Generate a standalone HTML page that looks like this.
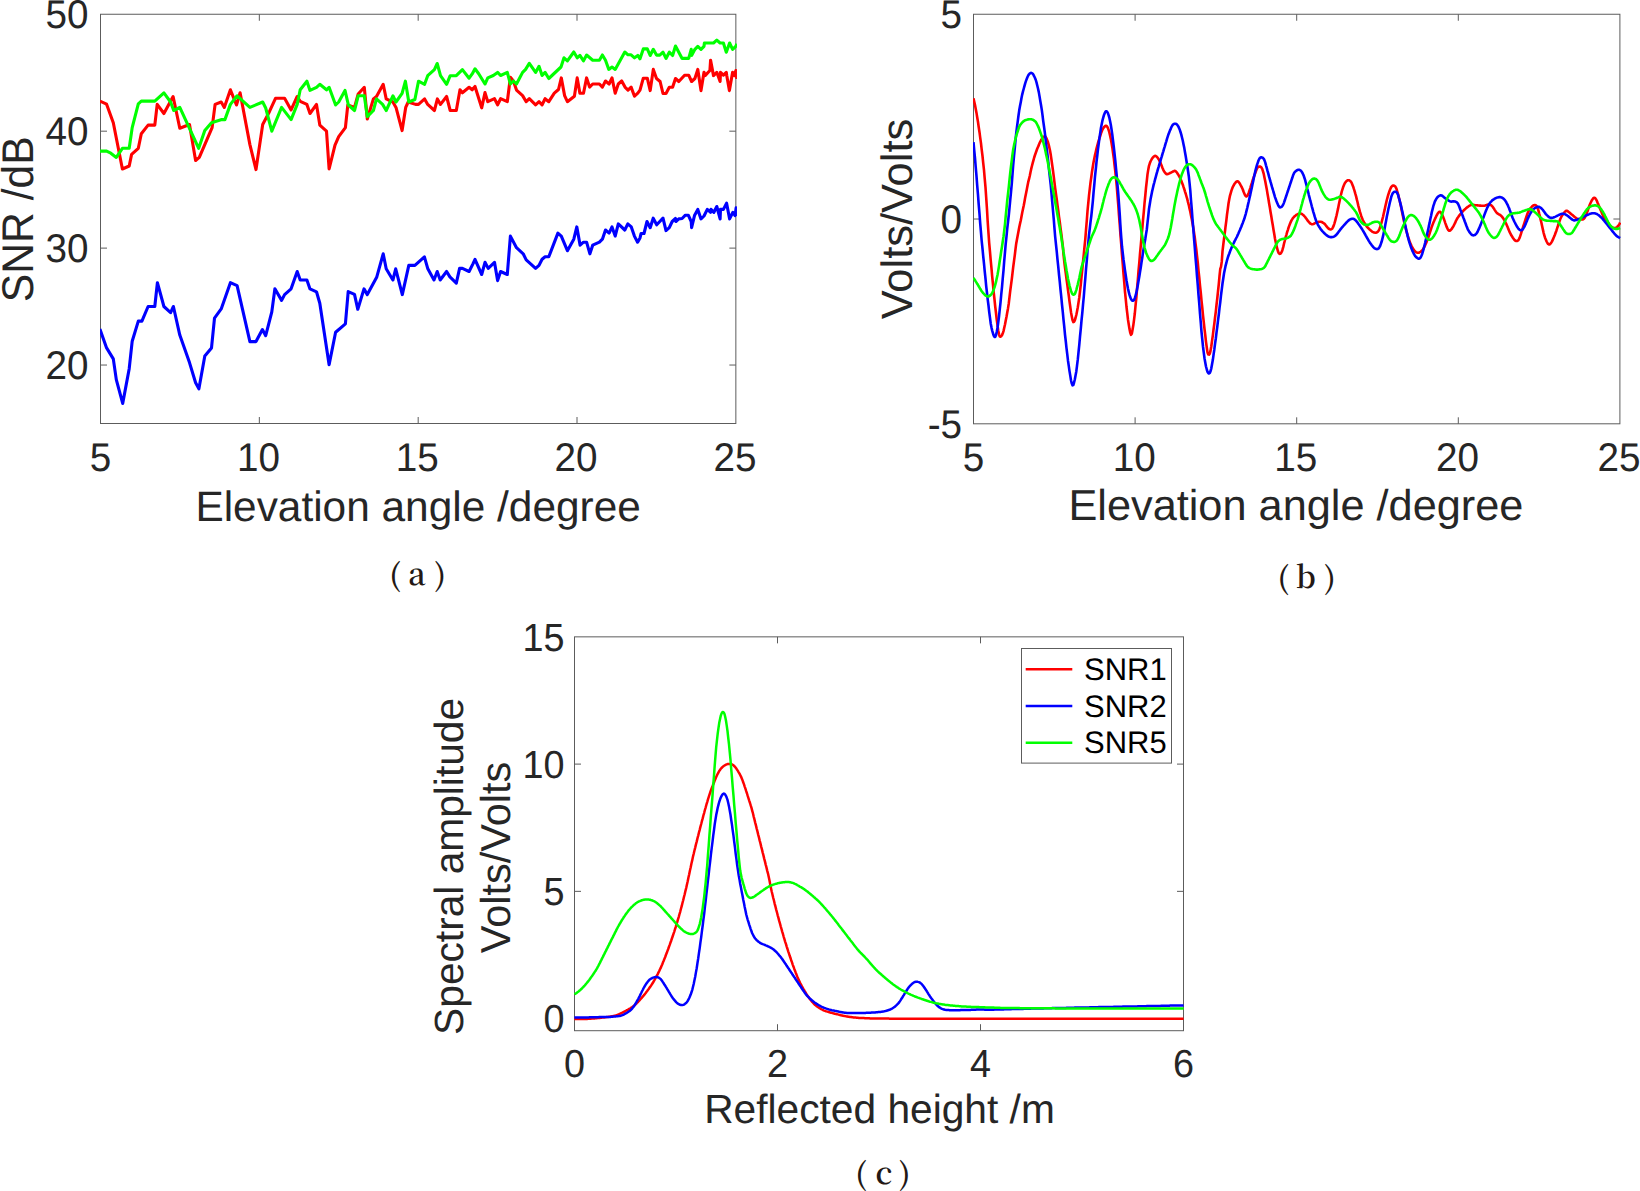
<!DOCTYPE html>
<html><head><meta charset="utf-8"><title>Figure</title>
<style>
html,body{margin:0;padding:0;background:#fff;}
body{width:1640px;height:1191px;overflow:hidden;}
svg{display:block;}
text{text-rendering:geometricPrecision;}
.t{font-family:"Liberation Sans", Arial, sans-serif;font-size:40.0px;fill:#262626;}
.l{font-family:"Liberation Sans", Arial, sans-serif;font-size:42.6px;fill:#262626;}
.c{font-family:"Noto Serif CJK SC", "Liberation Serif", serif;font-size:30.6px;font-weight:600;fill:#231815;}
.lg{font-family:"Liberation Sans", Arial, sans-serif;font-size:31.2px;fill:#000;}
.ax{stroke:#5c5c5c;stroke-width:1;fill:none;}
.tc{font-family:"Liberation Sans", Arial, sans-serif;font-size:39.1px;fill:#262626;}
.lc{font-family:"Liberation Sans", Arial, sans-serif;font-size:40.7px;fill:#262626;}
.cv{fill:none;stroke-linejoin:round;stroke-linecap:butt;}
</style></head><body>
<svg width="1640" height="1191" viewBox="0 0 1640 1191">
<rect width="1640" height="1191" fill="#fff"/>
<g class="ax"><rect x="100.50" y="14.25" width="635.35" height="409.25"/><line x1="259.34" y1="423.50" x2="259.34" y2="417.00"/><line x1="259.34" y1="14.25" x2="259.34" y2="20.75"/><line x1="418.18" y1="423.50" x2="418.18" y2="417.00"/><line x1="418.18" y1="14.25" x2="418.18" y2="20.75"/><line x1="577.01" y1="423.50" x2="577.01" y2="417.00"/><line x1="577.01" y1="14.25" x2="577.01" y2="20.75"/><line x1="100.50" y1="365.04" x2="107.00" y2="365.04"/><line x1="735.85" y1="365.04" x2="729.35" y2="365.04"/><line x1="100.50" y1="248.11" x2="107.00" y2="248.11"/><line x1="735.85" y1="248.11" x2="729.35" y2="248.11"/><line x1="100.50" y1="131.18" x2="107.00" y2="131.18"/><line x1="735.85" y1="131.18" x2="729.35" y2="131.18"/></g>
<clipPath id="ca"><rect x="100.00" y="13.75" width="636.95" height="410.25"/></clipPath>
<g clip-path="url(#ca)" class="cv">
<polyline points="99.9,101.1 106.6,104.2 113.3,122.7 122.4,169.0 129.2,166.0 131.6,154.4 138.3,148.3 141.3,133.7 148.1,125.1 154.8,125.1 157.2,104.4 163.9,113.5 173.1,96.5 179.8,128.2 189.5,124.5 195.6,160.5 199.3,157.4 212.1,127.6 215.1,104.4 221.2,102.0 224.3,107.4 230.4,89.8 236.5,105.0 240.1,92.8 249.9,144.6 256.0,169.6 262.7,124.5 269.4,111.7 275.5,98.3 284.6,98.3 291.1,109.9 297.2,96.5 300.2,101.3 306.9,104.4 310.0,113.5 316.5,104.4 319.8,125.1 326.5,131.2 329.1,169.0 335.0,145.2 338.7,136.7 345.4,127.6 347.8,105.0 354.5,107.4 358.2,94.0 364.3,87.3 367.3,119.0 373.4,98.9 376.5,96.5 383.2,84.3 386.2,98.9 392.9,102.0 396.0,107.4 402.1,130.6 405.7,107.4 408.2,102.0 415.5,104.4 418.5,104.4 424.6,98.9 427.7,104.4 434.4,110.5 437.4,98.9 440.5,104.4 446.6,96.5 450.2,110.5 456.3,110.5 460.0,89.8 462.4,92.8 469.1,87.3 472.2,89.8 475.0,86.5 481.7,107.8 485.0,92.6 487.8,101.7 494.5,98.7 497.6,104.8 500.6,98.7 507.3,101.7 510.4,77.3 513.4,81.0 516.5,90.1 522.6,95.6 526.2,101.7 529.3,98.7 535.6,104.8 539.0,101.7 542.1,104.8 545.1,98.7 548.8,101.7 554.3,93.2 558.5,89.5 561.3,77.9 564.6,95.6 567.4,101.7 574.4,96.2 577.2,77.9 579.9,93.2 583.5,93.2 586.6,77.9 589.6,87.1 592.7,84.0 599.4,84.0 602.4,87.1 605.5,81.0 609.1,84.0 612.0,77.9 615.2,93.2 618.3,84.0 621.7,81.0 625.0,87.1 628.0,90.1 631.1,87.1 634.5,96.2 637.8,93.2 640.0,90.2 643.3,78.2 647.3,78.2 650.2,90.6 653.3,69.4 656.5,78.5 660.1,81.5 663.0,93.5 666.0,93.5 669.3,87.3 672.6,87.3 675.5,78.5 678.8,81.5 684.6,75.2 688.7,75.2 691.6,81.5 694.9,78.5 697.8,69.4 701.0,90.6 704.0,72.3 705.1,75.6 709.9,70.5 710.6,60.2 713.5,75.6 716.8,72.3 720.1,81.5 720.5,72.3 723.4,75.2 726.3,72.3 726.7,75.2 729.4,90.6 732.6,72.3 734.4,75.6 735.9,70.5 736.9,78.9" stroke="#ff0000" stroke-width="3.1"/>
<polyline points="99.9,329.0 106.6,347.9 113.3,358.9 116.3,379.6 122.7,403.4 129.2,368.7 132.2,341.2 138.3,321.1 141.9,321.1 148.1,306.5 154.8,306.5 157.4,282.7 163.9,306.5 170.6,312.6 173.4,306.5 179.8,335.1 189.5,362.6 195.6,382.7 198.9,388.8 204.8,355.9 211.5,347.9 214.5,318.1 221.2,308.9 230.4,282.7 237.1,285.7 249.9,341.6 256.0,341.6 262.4,329.6 265.7,335.7 271.8,311.9 274.9,288.8 281.6,300.4 284.6,294.6 291.1,288.8 297.2,271.5 300.2,280.0 306.9,280.0 310.0,288.9 316.5,291.8 319.8,303.2 329.1,364.8 335.6,332.2 345.4,323.9 348.2,291.6 354.5,294.4 357.8,309.3 364.0,288.9 367.3,294.6 376.8,276.9 383.2,253.8 386.2,268.8 392.9,280.0 395.7,268.8 402.3,294.6 408.8,265.4 414.9,265.4 424.4,256.8 427.7,268.4 434.0,280.0 437.2,271.5 440.2,280.0 446.6,271.5 449.9,276.9 456.3,283.1 459.6,268.4 462.4,268.4 469.1,271.5 472.8,264.1 475.0,259.3 481.7,274.5 485.0,262.3 488.2,268.4 494.5,262.3 497.6,280.6 500.6,271.5 507.3,274.5 510.4,236.1 516.5,247.7 523.2,253.8 526.2,259.9 535.6,268.4 539.0,265.4 542.1,259.3 545.1,256.8 548.8,256.8 557.9,233.1 561.3,236.1 567.4,250.7 573.8,239.2 576.8,226.9 580.1,245.2 583.5,242.2 586.6,242.2 589.9,253.8 592.7,245.2 599.4,242.2 602.4,239.2 605.5,230.0 609.1,233.1 612.0,226.9 615.2,236.1 618.3,223.9 624.8,230.0 627.8,223.9 631.3,226.9 634.4,236.1 637.6,242.2 640.0,237.9 641.1,233.5 644.0,233.5 647.0,221.5 650.2,227.7 653.2,218.2 656.7,224.8 659.8,221.5 663.0,218.2 666.0,230.6 669.3,227.7 672.2,221.5 675.5,218.5 675.9,221.5 678.8,218.9 682.1,218.5 685.4,215.2 688.3,215.2 691.2,221.5 691.6,227.7 694.5,215.6 697.8,209.4 701.0,218.9 704.0,216.0 707.3,209.4 710.6,212.3 711.0,209.4 713.9,212.3 716.8,206.5 720.1,218.9 720.5,209.4 723.4,209.4 726.6,203.2 729.6,218.9 732.9,212.3 735.1,215.6 736.1,207.9 736.9,216.0" stroke="#0000ff" stroke-width="3.1"/>
<polyline points="99.9,151.1 106.6,151.1 110.8,153.2 116.3,157.4 122.4,148.3 129.2,148.3 132.2,127.6 138.3,103.8 141.3,101.1 154.8,101.1 163.9,92.8 170.6,102.0 173.7,110.5 179.8,107.4 198.7,148.3 204.8,130.6 211.5,122.7 221.8,119.6 224.9,119.6 230.4,104.4 237.1,95.8 249.9,107.4 262.7,102.0 265.7,108.0 271.8,131.2 281.6,107.4 291.1,119.6 297.2,104.4 300.2,89.8 306.9,81.2 310.0,90.4 316.5,87.3 319.8,84.3 326.5,89.8 329.1,87.3 335.6,105.0 338.7,102.0 345.0,90.4 348.4,105.0 354.5,110.5 358.2,95.8 364.3,95.8 367.3,116.6 373.4,110.5 376.5,98.9 382.6,104.4 386.2,110.5 392.9,95.8 396.0,102.0 402.1,93.4 405.4,81.2 408.8,102.0 414.9,99.5 418.5,81.2 424.6,84.3 427.7,75.7 434.4,69.6 437.2,63.5 440.5,75.7 446.6,84.3 450.2,75.7 456.3,75.7 462.4,69.6 469.1,78.2 472.2,73.9 475.0,68.8 478.7,73.7 485.0,84.0 487.8,77.9 493.3,75.5 497.6,72.4 500.6,75.5 507.3,72.4 510.4,84.0 513.4,81.0 516.5,84.0 522.6,72.4 525.6,69.4 529.3,63.3 535.6,72.4 539.0,66.3 542.1,75.5 545.1,72.4 548.8,78.5 561.0,67.0 564.0,57.8 567.4,60.9 573.8,52.0 577.2,57.8 579.9,55.4 583.5,60.9 586.6,55.0 592.7,60.2 599.4,60.2 602.4,55.0 605.5,60.2 608.8,69.4 612.0,67.0 615.2,69.4 624.8,52.0 628.0,54.8 631.1,54.8 634.5,57.8 637.8,55.4 640.0,58.8 643.3,48.9 647.3,48.9 650.2,55.5 653.3,49.3 656.5,55.1 659.8,55.1 663.0,52.2 666.0,58.4 669.3,52.2 672.6,55.5 675.5,46.0 682.1,58.4 688.7,58.4 691.2,49.3 691.6,55.5 694.9,49.3 697.8,46.3 701.0,49.3 704.0,46.3 704.4,43.0 713.5,43.0 716.8,40.1 720.1,43.0 723.4,43.0 726.3,52.2 729.6,43.0 732.6,49.3 735.7,46.5 736.9,43.8" stroke="#00ff00" stroke-width="3.1"/>
</g>
<text class="t" transform="translate(100.50,471.00) scale(0.9665,1)" text-anchor="middle">5</text>
<text class="t" transform="translate(258.44,471.00) scale(0.9665,1)" text-anchor="middle">10</text>
<text class="t" transform="translate(417.28,471.00) scale(0.9665,1)" text-anchor="middle">15</text>
<text class="t" transform="translate(576.11,471.00) scale(0.9665,1)" text-anchor="middle">20</text>
<text class="t" transform="translate(734.95,471.00) scale(0.9665,1)" text-anchor="middle">25</text>
<text class="t" transform="translate(88.50,379.24) scale(0.9665,1)" text-anchor="end">20</text>
<text class="t" transform="translate(88.50,262.31) scale(0.9665,1)" text-anchor="end">30</text>
<text class="t" transform="translate(88.50,145.38) scale(0.9665,1)" text-anchor="end">40</text>
<text class="t" transform="translate(88.50,28.45) scale(0.9665,1)" text-anchor="end">50</text>
<text class="l" transform="translate(418.10,520.60)" text-anchor="middle" style="font-size:42.4px">Elevation angle /degree</text>
<text class="l" transform="translate(33.00,219.30) rotate(-90) scale(0.9640,1)" text-anchor="middle" style="font-size:44.3px">SNR /dB</text>
<text class="c" xml:space="preserve" x="389.2 400.3 408.3 426.2 434.2" y="585.7 585.7 584.8 585.7 585.7">( a )</text>
<g class="ax"><rect x="973.50" y="14.25" width="646.40" height="409.55"/><line x1="1135.10" y1="423.80" x2="1135.10" y2="417.30"/><line x1="1135.10" y1="14.25" x2="1135.10" y2="20.75"/><line x1="1296.70" y1="423.80" x2="1296.70" y2="417.30"/><line x1="1296.70" y1="14.25" x2="1296.70" y2="20.75"/><line x1="1458.30" y1="423.80" x2="1458.30" y2="417.30"/><line x1="1458.30" y1="14.25" x2="1458.30" y2="20.75"/><line x1="973.50" y1="219.03" x2="980.00" y2="219.03"/><line x1="1619.90" y1="219.03" x2="1613.40" y2="219.03"/></g>
<clipPath id="cb"><rect x="973.00" y="13.75" width="648.00" height="410.55"/></clipPath>
<g clip-path="url(#cb)" class="cv">
<polyline points="973.5,98.3 974.2,101.6 975.0,105.1 975.7,108.8 976.5,112.9 977.2,117.3 978.0,122.0 978.7,127.0 979.5,132.2 980.2,137.6 981.0,143.4 981.7,149.6 982.5,156.0 983.2,162.8 984.0,170.2 984.7,178.4 985.5,187.3 986.2,197.7 987.0,209.5 987.7,221.8 988.5,233.3 989.2,243.1 990.0,251.8 990.7,260.2 991.5,268.5 992.2,276.6 993.0,284.6 993.7,292.3 994.5,299.5 995.2,306.4 996.0,313.0 996.7,319.3 997.5,325.1 998.2,330.4 999.0,334.3 999.7,336.4 1000.5,336.8 1001.2,336.3 1002.0,335.3 1002.7,333.6 1003.5,331.1 1004.2,328.0 1005.0,324.5 1005.7,320.7 1006.5,316.8 1007.2,312.8 1008.0,308.4 1008.8,303.2 1009.5,297.2 1010.2,291.2 1011.0,285.2 1011.8,279.2 1012.5,273.2 1013.2,267.2 1014.0,261.2 1014.8,255.2 1015.5,249.2 1016.2,243.7 1017.0,239.2 1017.8,235.1 1018.5,231.3 1019.2,227.5 1020.0,223.8 1020.8,220.2 1021.5,216.5 1022.2,212.8 1023.0,209.1 1023.8,205.3 1024.5,201.4 1025.2,197.4 1026.0,193.5 1026.8,189.6 1027.5,185.8 1028.2,182.2 1029.0,179.2 1029.8,175.8 1030.5,172.3 1031.2,168.9 1032.0,165.7 1032.8,162.7 1033.5,160.1 1034.2,157.5 1035.0,155.0 1035.8,152.8 1036.5,150.8 1037.2,148.8 1038.0,146.9 1038.8,145.1 1039.5,143.3 1040.2,141.8 1041.0,140.3 1041.8,139.0 1042.5,137.9 1043.2,137.1 1044.0,136.6 1044.8,136.5 1045.5,136.8 1046.2,137.9 1047.0,139.6 1047.8,141.7 1048.5,144.1 1049.2,146.9 1050.0,150.6 1050.8,155.1 1051.5,159.9 1052.2,165.0 1053.0,170.8 1053.8,176.8 1054.5,182.7 1055.2,188.4 1056.0,194.1 1056.8,199.8 1057.5,205.4 1058.3,210.9 1059.0,216.6 1059.8,222.2 1060.5,227.9 1061.3,233.6 1062.0,239.5 1062.8,245.9 1063.5,254.1 1064.3,261.8 1065.0,267.6 1065.8,273.2 1066.5,278.9 1067.3,284.5 1068.0,290.1 1068.8,295.7 1069.5,301.4 1070.3,307.0 1071.0,312.2 1071.8,316.4 1072.5,320.0 1073.3,322.1 1074.0,321.8 1074.8,320.3 1075.5,318.0 1076.3,315.0 1077.0,311.6 1077.8,307.3 1078.5,302.6 1079.3,297.4 1080.0,291.4 1080.8,284.4 1081.5,276.9 1082.3,269.4 1083.0,261.9 1083.8,254.3 1084.5,246.8 1085.3,239.2 1086.0,230.2 1086.8,220.5 1087.5,211.1 1088.3,202.8 1089.0,195.5 1089.8,188.7 1090.5,182.6 1091.3,177.0 1092.0,171.7 1092.8,166.8 1093.5,162.4 1094.3,158.6 1095.0,155.0 1095.8,151.7 1096.5,148.6 1097.3,145.7 1098.0,143.0 1098.8,140.4 1099.5,138.0 1100.3,135.7 1101.0,133.4 1101.8,131.3 1102.5,129.6 1103.3,128.2 1104.0,127.1 1104.8,126.4 1105.5,125.9 1106.3,125.9 1107.0,126.4 1107.8,127.7 1108.5,129.6 1109.3,132.2 1110.0,135.3 1110.8,138.9 1111.5,142.9 1112.3,147.4 1113.0,152.5 1113.8,158.2 1114.5,164.6 1115.3,171.3 1116.0,178.5 1116.8,186.6 1117.5,195.8 1118.3,205.5 1119.0,215.4 1119.8,225.4 1120.5,235.4 1121.3,245.2 1122.0,254.8 1122.8,264.3 1123.5,273.7 1124.3,282.9 1125.0,291.8 1125.8,299.7 1126.5,307.0 1127.3,313.7 1128.0,319.7 1128.8,324.7 1129.5,329.1 1130.3,332.9 1131.0,334.8 1131.8,333.7 1132.5,330.0 1133.3,325.3 1134.0,320.1 1134.8,313.5 1135.5,306.0 1136.3,298.0 1137.0,289.4 1137.8,280.4 1138.5,271.2 1139.3,262.5 1140.0,253.9 1140.8,245.4 1141.5,237.0 1142.3,228.6 1143.0,220.2 1143.8,211.8 1144.5,203.5 1145.3,195.5 1146.0,187.9 1146.8,180.8 1147.5,174.4 1148.3,169.4 1149.0,165.8 1149.8,163.3 1150.5,161.5 1151.3,160.0 1152.0,158.7 1152.8,157.6 1153.5,156.8 1154.3,156.2 1155.0,155.8 1155.8,156.0 1156.5,156.5 1157.3,157.3 1158.0,158.3 1158.8,159.5 1159.5,160.8 1160.3,162.3 1161.0,164.1 1161.8,166.1 1162.5,168.0 1163.3,169.8 1164.0,171.2 1164.8,172.4 1165.5,173.3 1166.3,174.0 1167.0,174.3 1167.8,174.1 1168.5,173.8 1169.3,173.4 1170.0,173.0 1170.8,172.7 1171.5,172.3 1172.3,171.9 1173.0,171.5 1173.8,171.2 1174.5,170.8 1175.3,171.0 1176.0,171.6 1176.8,172.4 1177.5,173.5 1178.3,174.7 1179.0,176.0 1179.8,177.4 1180.5,179.0 1181.3,180.7 1182.0,182.6 1182.8,184.7 1183.5,186.9 1184.3,189.2 1185.0,191.6 1185.8,194.0 1186.5,196.5 1187.3,199.2 1188.0,202.1 1188.8,205.1 1189.5,208.4 1190.3,211.8 1191.0,215.4 1191.8,219.3 1192.5,223.4 1193.3,227.8 1194.0,232.5 1194.8,237.7 1195.5,243.3 1196.3,249.3 1197.0,255.9 1197.8,263.0 1198.5,270.5 1199.3,278.0 1200.0,285.5 1200.8,293.0 1201.5,300.5 1202.3,308.0 1203.0,315.4 1203.8,322.4 1204.5,328.9 1205.3,335.5 1206.0,341.8 1206.8,347.7 1207.5,352.4 1208.3,354.4 1209.0,354.6 1209.8,353.6 1210.5,350.9 1211.3,346.2 1212.0,341.1 1212.8,335.6 1213.5,329.8 1214.3,323.9 1215.0,317.9 1215.8,311.6 1216.5,305.0 1217.3,298.2 1218.0,291.3 1218.8,284.0 1219.5,276.2 1220.3,268.7 1221.0,266.9 1221.8,261.4 1222.5,251.3 1223.3,244.5 1224.0,238.8 1224.8,232.9 1225.5,226.9 1226.3,220.8 1227.0,214.7 1227.8,208.8 1228.5,203.5 1229.3,199.1 1230.0,195.6 1230.8,192.8 1231.5,190.4 1232.3,188.3 1233.0,186.6 1233.8,185.1 1234.5,183.8 1235.3,182.9 1236.0,182.0 1236.8,181.4 1237.5,181.2 1238.3,181.6 1239.0,182.5 1239.8,183.6 1240.5,184.9 1241.3,186.3 1242.0,187.7 1242.8,189.5 1243.5,191.5 1244.3,193.4 1245.0,195.1 1245.8,196.2 1246.5,196.4 1247.3,195.8 1248.0,194.5 1248.8,192.7 1249.5,190.5 1250.3,188.1 1251.0,185.6 1251.8,183.2 1252.5,180.8 1253.3,178.5 1254.0,176.4 1254.8,174.2 1255.5,172.2 1256.3,170.2 1257.0,168.5 1257.8,167.3 1258.5,166.7 1259.3,166.5 1260.0,166.5 1260.8,166.9 1261.5,167.7 1262.3,169.1 1263.0,171.3 1263.8,174.2 1264.5,177.7 1265.3,181.4 1266.0,185.3 1266.8,189.4 1267.5,193.8 1268.3,198.3 1269.0,202.8 1269.8,207.3 1270.5,211.8 1271.3,216.3 1272.0,220.8 1272.8,225.3 1273.5,229.8 1274.3,234.3 1275.0,238.8 1275.8,242.6 1276.5,245.9 1277.3,248.9 1278.0,251.4 1278.8,253.2 1279.5,253.9 1280.3,253.8 1281.0,253.1 1281.8,251.7 1282.5,249.7 1283.3,246.9 1284.0,243.8 1284.8,240.7 1285.5,237.7 1286.3,235.1 1287.0,232.5 1287.8,230.1 1288.5,227.8 1289.3,225.6 1290.0,223.7 1290.8,221.9 1291.5,220.4 1292.3,219.1 1293.0,218.0 1293.8,217.2 1294.5,216.4 1295.3,215.8 1296.0,215.2 1296.8,214.7 1297.6,214.3 1298.3,214.0 1299.1,213.7 1299.8,213.5 1300.6,213.5 1301.3,213.7 1302.1,214.1 1302.8,214.7 1303.6,215.3 1304.3,216.1 1305.1,216.9 1305.8,217.9 1306.6,219.0 1307.3,220.1 1308.1,221.1 1308.8,222.1 1309.6,222.8 1310.3,223.5 1311.1,223.9 1311.8,224.2 1312.6,224.2 1313.3,224.0 1314.1,223.7 1314.8,223.2 1315.6,222.8 1316.3,222.5 1317.1,222.2 1317.8,222.0 1318.6,221.9 1319.3,221.8 1320.1,221.7 1320.8,221.8 1321.6,222.0 1322.3,222.3 1323.1,222.8 1323.8,223.3 1324.6,223.9 1325.3,224.7 1326.1,225.7 1326.8,226.7 1327.6,227.6 1328.3,228.4 1329.1,229.0 1329.8,229.3 1330.6,229.5 1331.3,229.3 1332.1,228.7 1332.8,227.6 1333.6,225.9 1334.3,223.8 1335.1,221.2 1335.8,218.4 1336.6,215.3 1337.3,212.0 1338.1,208.4 1338.8,204.7 1339.6,200.9 1340.3,197.4 1341.1,194.2 1341.8,191.4 1342.6,188.9 1343.3,186.7 1344.1,184.8 1344.8,183.3 1345.6,182.1 1346.3,181.2 1347.1,180.6 1347.8,180.3 1348.6,180.3 1349.3,180.4 1350.1,180.8 1350.8,181.6 1351.6,182.7 1352.3,184.4 1353.1,186.4 1353.8,188.7 1354.6,191.1 1355.3,193.7 1356.1,196.4 1356.8,199.4 1357.6,202.5 1358.3,205.6 1359.1,208.6 1359.8,211.4 1360.6,213.9 1361.3,216.2 1362.1,218.2 1362.8,220.0 1363.6,221.5 1364.3,222.8 1365.1,224.1 1365.8,225.2 1366.6,226.2 1367.3,227.2 1368.1,228.0 1368.8,228.7 1369.6,229.5 1370.3,230.1 1371.1,230.8 1371.8,231.3 1372.6,231.8 1373.3,232.2 1374.1,232.4 1374.8,232.6 1375.6,232.7 1376.3,232.6 1377.1,232.3 1377.8,231.7 1378.6,230.7 1379.3,229.2 1380.1,227.2 1380.8,224.9 1381.6,222.3 1382.3,219.5 1383.1,216.5 1383.8,213.3 1384.6,209.9 1385.3,206.5 1386.1,203.1 1386.8,200.0 1387.6,197.2 1388.3,194.6 1389.1,192.3 1389.8,190.2 1390.6,188.3 1391.3,186.9 1392.1,186.1 1392.8,185.6 1393.6,185.6 1394.3,185.8 1395.1,186.3 1395.8,187.4 1396.6,189.1 1397.3,191.5 1398.1,194.3 1398.8,197.2 1399.6,200.3 1400.3,203.6 1401.1,207.1 1401.8,210.7 1402.6,214.4 1403.3,218.1 1404.1,221.6 1404.8,224.8 1405.6,227.9 1406.3,230.7 1407.1,233.4 1407.8,235.9 1408.6,238.3 1409.3,240.5 1410.1,242.6 1410.8,244.4 1411.6,246.1 1412.3,247.5 1413.1,248.8 1413.8,249.9 1414.6,250.8 1415.3,251.6 1416.1,252.1 1416.8,252.5 1417.6,252.7 1418.3,252.7 1419.1,252.6 1419.8,252.2 1420.6,251.8 1421.3,251.1 1422.1,250.4 1422.8,249.4 1423.6,248.2 1424.3,246.9 1425.1,245.3 1425.8,243.7 1426.6,241.9 1427.3,240.0 1428.1,238.0 1428.8,235.8 1429.6,233.5 1430.3,231.2 1431.1,228.9 1431.8,226.7 1432.6,224.6 1433.3,222.7 1434.1,221.0 1434.8,219.3 1435.6,217.7 1436.3,216.1 1437.1,214.6 1437.8,213.3 1438.6,212.4 1439.3,211.8 1440.1,211.8 1440.8,212.4 1441.6,213.6 1442.3,215.1 1443.1,216.9 1443.8,218.8 1444.6,220.9 1445.3,223.1 1446.1,225.3 1446.8,227.2 1447.6,228.8 1448.3,230.0 1449.1,230.7 1449.8,230.7 1450.6,230.1 1451.3,229.4 1452.1,228.4 1452.8,227.2 1453.6,225.9 1454.3,224.5 1455.1,222.9 1455.8,221.2 1456.6,219.7 1457.3,218.3 1458.1,217.2 1458.8,216.1 1459.6,215.1 1460.3,214.2 1461.1,213.3 1461.8,212.4 1462.6,211.6 1463.3,210.8 1464.1,210.1 1464.8,209.3 1465.6,208.7 1466.3,208.0 1467.1,207.4 1467.8,206.8 1468.6,206.3 1469.3,205.8 1470.1,205.4 1470.8,205.1 1471.6,204.9 1472.3,204.9 1473.1,204.9 1473.8,205.0 1474.6,205.1 1475.3,205.2 1476.1,205.2 1476.8,205.3 1477.6,205.4 1478.3,205.5 1479.1,205.5 1479.8,205.6 1480.6,205.6 1481.3,205.7 1482.1,205.7 1482.8,205.8 1483.6,205.8 1484.3,205.7 1485.1,205.5 1485.8,205.2 1486.6,205.0 1487.3,204.7 1488.1,204.5 1488.8,204.4 1489.6,204.5 1490.3,204.8 1491.1,205.2 1491.8,205.8 1492.6,206.6 1493.3,207.7 1494.1,208.9 1494.8,210.1 1495.6,211.3 1496.3,212.3 1497.1,213.1 1497.8,213.6 1498.6,214.1 1499.3,214.5 1500.1,214.9 1500.8,215.5 1501.6,216.2 1502.3,217.1 1503.1,218.1 1503.8,219.3 1504.6,220.6 1505.3,222.1 1506.1,223.6 1506.8,225.2 1507.6,227.0 1508.3,228.9 1509.1,230.7 1509.8,232.4 1510.6,233.9 1511.3,235.3 1512.1,236.5 1512.8,237.7 1513.6,238.8 1514.3,239.8 1515.1,240.5 1515.8,240.9 1516.6,241.0 1517.3,240.9 1518.1,240.4 1518.8,239.4 1519.6,237.9 1520.3,235.8 1521.1,233.4 1521.8,231.0 1522.6,228.6 1523.3,226.2 1524.1,223.8 1524.8,221.6 1525.6,219.3 1526.3,217.0 1527.1,214.8 1527.8,212.8 1528.6,211.2 1529.3,209.9 1530.1,208.8 1530.8,207.9 1531.6,207.0 1532.3,206.2 1533.1,205.6 1533.8,205.2 1534.6,205.1 1535.3,205.1 1536.1,205.5 1536.8,206.4 1537.6,208.0 1538.4,210.4 1539.1,213.3 1539.9,216.3 1540.6,219.4 1541.4,222.7 1542.1,226.1 1542.9,229.6 1543.6,232.8 1544.4,235.6 1545.1,237.9 1545.9,239.8 1546.6,241.5 1547.4,243.0 1548.1,244.0 1548.9,244.5 1549.6,244.4 1550.4,243.8 1551.1,242.9 1551.9,241.6 1552.6,240.1 1553.4,238.4 1554.1,236.6 1554.9,234.8 1555.6,232.8 1556.4,230.7 1557.1,228.4 1557.9,226.0 1558.6,223.7 1559.4,221.5 1560.1,219.5 1560.9,217.8 1561.6,216.3 1562.4,215.1 1563.1,214.0 1563.9,213.0 1564.6,212.2 1565.4,211.4 1566.1,210.9 1566.9,210.8 1567.6,211.1 1568.4,211.7 1569.1,212.3 1569.9,212.9 1570.6,213.6 1571.4,214.2 1572.1,214.8 1572.9,215.4 1573.6,216.1 1574.4,216.7 1575.1,217.3 1575.9,217.9 1576.6,218.4 1577.4,218.7 1578.1,218.9 1578.9,219.1 1579.6,219.2 1580.4,219.4 1581.1,219.5 1581.9,219.5 1582.6,219.4 1583.4,219.2 1584.1,218.5 1584.9,217.4 1585.6,216.0 1586.4,214.3 1587.1,212.4 1587.9,210.2 1588.6,208.0 1589.4,205.8 1590.1,204.0 1590.9,202.3 1591.6,200.8 1592.4,199.5 1593.1,198.3 1593.9,197.8 1594.6,197.8 1595.4,198.4 1596.1,199.4 1596.9,201.0 1597.6,202.8 1598.4,204.6 1599.1,206.4 1599.9,208.2 1600.6,210.0 1601.4,211.8 1602.1,213.6 1602.9,215.3 1603.6,217.0 1604.4,218.7 1605.1,220.1 1605.9,221.3 1606.6,222.3 1607.4,223.2 1608.1,224.0 1608.9,224.8 1609.6,225.5 1610.4,226.2 1611.1,226.7 1611.9,227.2 1612.6,227.6 1613.4,227.9 1614.1,228.0 1614.9,228.0 1615.6,227.9 1616.4,227.6 1617.1,227.0 1617.9,226.2 1618.6,225.3 1619.4,224.1 1620.1,222.6" stroke="#ff0000" stroke-width="2.6"/>
<polyline points="973.5,142.2 974.2,150.1 975.0,158.2 975.7,166.9 976.5,176.1 977.2,185.5 978.0,194.9 978.7,204.3 979.5,213.8 980.2,223.4 981.0,232.7 981.7,241.0 982.5,248.6 983.2,256.1 984.0,263.6 984.7,271.1 985.5,278.6 986.2,286.1 987.0,293.0 987.7,299.3 988.5,305.5 989.2,311.8 990.0,317.8 990.7,323.4 991.5,327.6 992.2,330.6 993.0,333.3 993.7,335.5 994.5,336.9 995.2,337.0 996.0,335.3 996.7,332.1 997.5,328.0 998.2,322.9 999.0,316.6 999.7,309.8 1000.5,302.6 1001.2,295.0 1002.0,287.1 1002.7,279.0 1003.5,270.4 1004.2,261.2 1005.0,252.1 1005.7,243.9 1006.5,236.3 1007.2,229.0 1008.0,222.0 1008.8,215.0 1009.5,207.8 1010.2,200.3 1011.0,192.1 1011.8,183.3 1012.5,174.2 1013.2,165.0 1014.0,156.2 1014.8,147.9 1015.5,140.3 1016.2,133.3 1017.0,126.8 1017.8,120.9 1018.5,115.5 1019.2,110.6 1020.0,106.1 1020.8,101.9 1021.5,98.1 1022.2,94.6 1023.0,91.4 1023.8,88.5 1024.5,85.8 1025.2,83.3 1026.0,80.9 1026.8,78.8 1027.5,77.0 1028.2,75.5 1029.0,74.3 1029.8,73.5 1030.5,73.0 1031.2,72.9 1032.0,73.2 1032.8,73.8 1033.5,74.9 1034.2,76.3 1035.0,78.0 1035.8,80.0 1036.5,82.4 1037.2,85.2 1038.0,88.5 1038.8,92.1 1039.5,96.1 1040.2,100.4 1041.0,105.0 1041.8,109.9 1042.5,115.2 1043.2,120.8 1044.0,126.5 1044.8,132.4 1045.5,138.5 1046.2,144.8 1047.0,151.2 1047.8,157.7 1048.5,164.4 1049.2,171.3 1050.0,178.4 1050.8,185.7 1051.5,193.4 1052.2,201.7 1053.0,210.6 1053.8,219.7 1054.5,228.6 1055.2,237.0 1056.0,244.7 1056.8,252.2 1057.5,259.7 1058.3,267.2 1059.0,274.7 1059.8,282.2 1060.5,289.7 1061.3,297.2 1062.0,304.7 1062.8,312.2 1063.5,319.7 1064.3,327.2 1065.0,334.6 1065.8,341.5 1066.5,348.1 1067.3,354.6 1068.0,360.7 1068.8,366.1 1069.5,371.1 1070.3,375.9 1071.0,380.3 1071.8,383.6 1072.5,385.3 1073.3,385.0 1074.0,382.8 1074.8,379.5 1075.5,375.8 1076.3,371.4 1077.0,365.9 1077.8,359.4 1078.5,352.4 1079.3,344.6 1080.0,336.6 1080.8,328.6 1081.5,320.6 1082.3,312.8 1083.0,304.8 1083.8,296.5 1084.5,287.5 1085.3,278.4 1086.0,269.3 1086.8,260.3 1087.5,251.3 1088.3,242.5 1089.0,234.9 1089.8,228.3 1090.5,222.2 1091.3,216.1 1092.0,209.3 1092.8,201.6 1093.5,193.2 1094.3,184.7 1095.0,176.5 1095.8,169.1 1096.5,162.0 1097.3,155.4 1098.0,149.1 1098.8,143.1 1099.5,137.6 1100.3,132.4 1101.0,127.8 1101.8,123.7 1102.5,120.3 1103.3,117.4 1104.0,114.9 1104.8,112.9 1105.5,111.7 1106.3,111.2 1107.0,111.6 1107.8,112.9 1108.5,114.9 1109.3,117.5 1110.0,120.8 1110.8,124.7 1111.5,129.3 1112.3,134.6 1113.0,140.5 1113.8,146.8 1114.5,153.5 1115.3,160.7 1116.0,168.3 1116.8,176.5 1117.5,185.1 1118.3,194.2 1119.0,203.8 1119.8,215.3 1120.5,227.4 1121.3,238.2 1122.0,246.5 1122.8,253.4 1123.5,259.5 1124.3,265.1 1125.0,270.4 1125.8,275.6 1126.5,280.5 1127.3,284.9 1128.0,288.8 1128.8,292.1 1129.5,294.9 1130.3,297.3 1131.0,299.1 1131.8,300.2 1132.5,300.8 1133.3,300.7 1134.0,300.0 1134.8,298.2 1135.5,295.8 1136.3,292.9 1137.0,289.4 1137.8,285.3 1138.5,281.0 1139.3,276.6 1140.0,272.0 1140.8,267.2 1141.5,262.4 1142.3,257.5 1143.0,252.6 1143.8,247.8 1144.5,243.2 1145.3,238.9 1146.0,234.4 1146.8,229.5 1147.5,222.9 1148.3,215.6 1149.0,208.9 1149.8,204.0 1150.5,199.6 1151.3,195.6 1152.0,191.9 1152.8,188.5 1153.5,185.4 1154.3,182.5 1155.0,179.7 1155.8,176.8 1156.5,174.1 1157.3,171.4 1158.0,168.8 1158.8,166.3 1159.5,163.8 1160.3,161.3 1161.0,158.8 1161.8,156.3 1162.5,153.8 1163.3,151.3 1164.0,148.8 1164.8,146.3 1165.5,143.8 1166.3,141.3 1167.0,138.8 1167.8,136.4 1168.5,134.2 1169.3,132.2 1170.0,130.4 1170.8,128.6 1171.5,126.9 1172.3,125.6 1173.0,124.6 1173.8,124.0 1174.5,123.8 1175.3,123.7 1176.0,123.8 1176.8,124.3 1177.5,125.2 1178.3,126.4 1179.0,127.9 1179.8,129.8 1180.5,132.0 1181.3,134.6 1182.0,137.5 1182.8,140.7 1183.5,144.2 1184.3,148.1 1185.0,152.3 1185.8,156.7 1186.5,161.3 1187.3,166.0 1188.0,170.8 1188.8,176.2 1189.5,182.6 1190.3,190.7 1191.0,200.0 1191.8,209.5 1192.5,219.0 1193.3,228.6 1194.0,238.2 1194.8,247.8 1195.5,257.3 1196.3,266.7 1197.0,276.1 1197.8,285.5 1198.5,294.9 1199.3,304.2 1200.0,313.6 1200.8,323.0 1201.5,331.9 1202.3,339.6 1203.0,346.5 1203.8,352.8 1204.5,358.2 1205.3,362.7 1206.0,366.5 1206.8,369.5 1207.5,371.8 1208.3,373.1 1209.0,373.5 1209.8,373.0 1210.5,371.3 1211.3,368.3 1212.0,364.4 1212.8,360.1 1213.5,355.1 1214.3,349.7 1215.0,344.1 1215.8,338.5 1216.5,332.6 1217.3,326.7 1218.0,320.6 1218.8,314.5 1219.5,308.2 1220.3,301.8 1221.0,295.4 1221.8,289.2 1222.5,283.5 1223.3,278.2 1224.0,273.5 1224.8,269.5 1225.5,266.2 1226.3,263.2 1227.0,260.3 1227.8,257.7 1228.5,255.5 1229.3,253.5 1230.0,251.5 1230.8,249.6 1231.5,247.8 1232.3,246.1 1233.0,244.4 1233.8,242.9 1234.5,241.4 1235.3,239.9 1236.0,238.5 1236.8,237.0 1237.5,235.4 1238.3,233.7 1239.0,232.0 1239.8,230.3 1240.5,228.5 1241.3,226.7 1242.0,224.8 1242.8,222.9 1243.5,220.9 1244.3,218.8 1245.0,216.4 1245.8,213.8 1246.5,210.9 1247.3,207.8 1248.0,204.6 1248.8,201.3 1249.5,198.0 1250.3,194.6 1251.0,191.2 1251.8,187.7 1252.5,184.2 1253.3,180.6 1254.0,177.1 1254.8,173.6 1255.5,170.3 1256.3,167.4 1257.0,164.9 1257.8,162.6 1258.5,160.5 1259.3,158.9 1260.0,157.8 1260.8,157.3 1261.5,157.3 1262.3,157.6 1263.0,158.0 1263.8,158.9 1264.5,160.4 1265.3,162.6 1266.0,165.3 1266.8,168.1 1267.5,170.9 1268.3,173.7 1269.0,176.4 1269.8,179.1 1270.5,181.7 1271.3,184.3 1272.0,186.9 1272.8,189.5 1273.5,192.0 1274.3,194.6 1275.0,197.1 1275.8,199.3 1276.5,201.3 1277.3,203.2 1278.0,204.8 1278.8,206.3 1279.5,207.2 1280.3,207.4 1281.0,207.1 1281.8,206.6 1282.5,205.7 1283.3,204.4 1284.0,202.6 1284.8,200.3 1285.5,198.1 1286.3,195.8 1287.0,193.6 1287.8,191.3 1288.5,189.1 1289.3,186.8 1290.0,184.6 1290.8,182.3 1291.5,180.1 1292.3,177.8 1293.0,175.6 1293.8,173.7 1294.5,172.4 1295.3,171.6 1296.0,171.0 1296.8,170.4 1297.6,170.0 1298.3,169.8 1299.1,169.8 1299.8,170.0 1300.6,170.5 1301.3,171.2 1302.1,172.3 1302.8,173.7 1303.6,175.4 1304.3,177.5 1305.1,179.9 1305.8,182.7 1306.6,185.7 1307.3,188.7 1308.1,191.8 1308.8,194.8 1309.6,197.8 1310.3,200.7 1311.1,203.5 1311.8,206.3 1312.6,209.1 1313.3,211.8 1314.1,214.4 1314.8,216.9 1315.6,219.2 1316.3,221.2 1317.1,223.0 1317.8,224.6 1318.6,225.9 1319.3,227.1 1320.1,228.2 1320.8,229.3 1321.6,230.2 1322.3,231.1 1323.1,231.9 1323.8,232.7 1324.6,233.4 1325.3,234.2 1326.1,234.8 1326.8,235.4 1327.6,236.0 1328.3,236.4 1329.1,236.8 1329.8,237.0 1330.6,237.1 1331.3,237.1 1332.1,237.1 1332.8,236.9 1333.6,236.7 1334.3,236.4 1335.1,235.9 1335.8,235.3 1336.6,234.5 1337.3,233.6 1338.1,232.6 1338.8,231.6 1339.6,230.6 1340.3,229.6 1341.1,228.6 1341.8,227.7 1342.6,226.8 1343.3,226.0 1344.1,225.1 1344.8,224.3 1345.6,223.5 1346.3,222.7 1347.1,221.8 1347.8,221.1 1348.6,220.4 1349.3,219.9 1350.1,219.4 1350.8,219.1 1351.6,218.9 1352.3,218.8 1353.1,218.8 1353.8,219.0 1354.6,219.4 1355.3,220.0 1356.1,220.8 1356.8,221.6 1357.6,222.6 1358.3,223.7 1359.1,224.7 1359.8,225.8 1360.6,226.9 1361.3,228.1 1362.1,229.2 1362.8,230.4 1363.6,231.7 1364.3,233.0 1365.1,234.3 1365.8,235.6 1366.6,237.0 1367.3,238.3 1368.1,239.6 1368.8,240.9 1369.6,242.1 1370.3,243.3 1371.1,244.3 1371.8,245.3 1372.6,246.2 1373.3,247.1 1374.1,247.9 1374.8,248.4 1375.6,248.8 1376.3,249.0 1377.1,249.1 1377.8,248.9 1378.6,248.4 1379.3,247.4 1380.1,246.0 1380.8,244.1 1381.6,241.8 1382.3,239.1 1383.1,235.9 1383.8,232.5 1384.6,228.7 1385.3,224.7 1386.1,220.7 1386.8,216.8 1387.6,213.0 1388.3,209.4 1389.1,206.0 1389.8,202.7 1390.6,199.6 1391.3,196.7 1392.1,194.6 1392.8,193.2 1393.6,192.3 1394.3,191.8 1395.1,191.7 1395.8,191.7 1396.6,192.2 1397.3,193.3 1398.1,195.0 1398.8,197.6 1399.6,200.3 1400.3,203.2 1401.1,206.2 1401.8,209.4 1402.6,212.7 1403.3,216.0 1404.1,219.6 1404.8,223.2 1405.6,226.8 1406.3,230.3 1407.1,233.7 1407.8,236.7 1408.6,239.6 1409.3,242.1 1410.1,244.5 1410.8,246.7 1411.6,248.8 1412.3,250.6 1413.1,252.3 1413.8,253.8 1414.6,255.1 1415.3,256.2 1416.1,257.1 1416.8,257.7 1417.6,258.2 1418.3,258.6 1419.1,258.7 1419.8,258.3 1420.6,257.5 1421.3,256.1 1422.1,254.2 1422.8,251.9 1423.6,249.2 1424.3,246.2 1425.1,243.0 1425.8,239.8 1426.6,236.6 1427.3,233.2 1428.1,229.9 1428.8,226.4 1429.6,222.9 1430.3,219.3 1431.1,215.8 1431.8,212.3 1432.6,209.1 1433.3,206.2 1434.1,203.8 1434.8,201.7 1435.6,200.1 1436.3,198.8 1437.1,197.7 1437.8,196.9 1438.6,196.3 1439.3,195.8 1440.1,195.4 1440.8,195.2 1441.6,195.4 1442.3,195.9 1443.1,196.5 1443.8,197.1 1444.6,197.7 1445.3,198.3 1446.1,198.8 1446.8,199.3 1447.6,199.8 1448.3,200.3 1449.1,200.8 1449.8,201.3 1450.6,201.5 1451.3,201.6 1452.1,201.5 1452.8,201.4 1453.6,201.3 1454.3,201.4 1455.1,201.6 1455.8,201.8 1456.6,202.2 1457.3,202.9 1458.1,203.9 1458.8,205.5 1459.6,207.5 1460.3,209.5 1461.1,211.5 1461.8,213.5 1462.6,215.5 1463.3,217.5 1464.1,219.5 1464.8,221.5 1465.6,223.5 1466.3,225.5 1467.1,227.5 1467.8,229.3 1468.6,230.7 1469.3,231.9 1470.1,232.9 1470.8,233.8 1471.6,234.6 1472.3,235.1 1473.1,235.4 1473.8,235.3 1474.6,235.1 1475.3,234.6 1476.1,233.9 1476.8,233.0 1477.6,231.7 1478.3,230.1 1479.1,228.4 1479.8,226.7 1480.6,224.9 1481.3,223.0 1482.1,221.1 1482.8,219.1 1483.6,217.1 1484.3,215.1 1485.1,213.0 1485.8,211.1 1486.6,209.3 1487.3,207.6 1488.1,206.1 1488.8,204.7 1489.6,203.5 1490.3,202.4 1491.1,201.6 1491.8,200.8 1492.6,200.1 1493.3,199.6 1494.1,199.1 1494.8,198.6 1495.6,198.2 1496.3,197.9 1497.1,197.6 1497.8,197.4 1498.6,197.2 1499.3,197.1 1500.1,197.1 1500.8,197.2 1501.6,197.4 1502.3,197.8 1503.1,198.3 1503.8,198.9 1504.6,199.8 1505.3,200.8 1506.1,201.9 1506.8,203.3 1507.6,204.8 1508.3,206.5 1509.1,208.3 1509.8,210.3 1510.6,212.4 1511.3,214.5 1512.1,216.5 1512.8,218.3 1513.6,220.0 1514.3,221.5 1515.1,223.0 1515.8,224.4 1516.6,225.8 1517.3,227.1 1518.1,228.2 1518.8,229.1 1519.6,229.8 1520.3,230.2 1521.1,230.3 1521.8,230.0 1522.6,229.4 1523.3,228.4 1524.1,227.2 1524.8,225.8 1525.6,224.1 1526.3,222.3 1527.1,220.4 1527.8,218.6 1528.6,216.9 1529.3,215.5 1530.1,214.0 1530.8,212.7 1531.6,211.5 1532.3,210.4 1533.1,209.5 1533.8,208.8 1534.6,208.3 1535.3,207.8 1536.1,207.5 1536.8,207.2 1537.6,206.9 1538.4,206.8 1539.1,206.9 1539.9,207.3 1540.6,207.7 1541.4,208.3 1542.1,209.1 1542.9,209.9 1543.6,210.9 1544.4,212.0 1545.1,213.1 1545.9,214.1 1546.6,214.9 1547.4,215.7 1548.1,216.4 1548.9,217.0 1549.6,217.4 1550.4,217.8 1551.1,217.9 1551.9,217.9 1552.6,217.7 1553.4,217.5 1554.1,217.2 1554.9,216.9 1555.6,216.6 1556.4,216.2 1557.1,215.8 1557.9,215.4 1558.6,215.1 1559.4,214.7 1560.1,214.4 1560.9,214.1 1561.6,213.9 1562.4,213.8 1563.1,213.8 1563.9,213.9 1564.6,214.1 1565.4,214.4 1566.1,214.8 1566.9,215.3 1567.6,215.8 1568.4,216.3 1569.1,217.0 1569.9,217.7 1570.6,218.3 1571.4,218.9 1572.1,219.5 1572.9,219.9 1573.6,220.2 1574.4,220.4 1575.1,220.3 1575.9,220.1 1576.6,219.9 1577.4,219.6 1578.1,219.3 1578.9,219.0 1579.6,218.7 1580.4,218.3 1581.1,217.9 1581.9,217.6 1582.6,217.2 1583.4,216.8 1584.1,216.4 1584.9,216.1 1585.6,215.7 1586.4,215.3 1587.1,215.0 1587.9,214.7 1588.6,214.4 1589.4,214.1 1590.1,213.8 1590.9,213.6 1591.6,213.4 1592.4,213.3 1593.1,213.2 1593.9,213.2 1594.6,213.2 1595.4,213.4 1596.1,213.7 1596.9,214.0 1597.6,214.5 1598.4,215.0 1599.1,215.6 1599.9,216.3 1600.6,216.9 1601.4,217.7 1602.1,218.4 1602.9,219.2 1603.6,220.1 1604.4,221.0 1605.1,222.0 1605.9,222.9 1606.6,223.8 1607.4,224.8 1608.1,225.7 1608.9,226.7 1609.6,227.6 1610.4,228.5 1611.1,229.5 1611.9,230.4 1612.6,231.4 1613.4,232.3 1614.1,233.2 1614.9,234.2 1615.6,235.0 1616.4,235.7 1617.1,236.3 1617.9,236.8 1618.6,237.3 1619.4,237.7 1620.1,238.1" stroke="#0000ff" stroke-width="2.6"/>
<polyline points="973.5,277.8 974.2,279.0 975.0,280.2 975.7,281.4 976.5,282.6 977.2,283.8 978.0,285.0 978.7,286.3 979.5,287.6 980.2,288.8 981.0,290.1 981.7,291.2 982.5,292.2 983.2,293.1 984.0,293.9 984.7,294.7 985.5,295.4 986.2,295.9 987.0,296.2 987.7,296.4 988.5,296.4 989.2,296.2 990.0,295.7 990.7,295.0 991.5,294.0 992.2,292.9 993.0,291.4 993.7,289.6 994.5,287.4 995.2,284.8 996.0,281.9 996.7,278.6 997.5,275.0 998.2,270.9 999.0,266.1 999.7,261.3 1000.5,256.4 1001.2,251.5 1002.0,246.6 1002.7,241.7 1003.5,236.7 1004.2,231.0 1005.0,224.1 1005.7,216.4 1006.5,208.5 1007.2,200.9 1008.0,193.8 1008.8,186.8 1009.5,179.9 1010.2,173.1 1011.0,166.5 1011.8,160.2 1012.5,154.4 1013.2,149.5 1014.0,145.4 1014.8,141.8 1015.5,138.8 1016.2,136.0 1017.0,133.4 1017.8,131.0 1018.5,128.8 1019.2,126.8 1020.0,125.3 1020.8,124.2 1021.5,123.3 1022.2,122.5 1023.0,121.8 1023.8,121.1 1024.5,120.6 1025.2,120.2 1026.0,119.9 1026.8,119.7 1027.5,119.5 1028.2,119.4 1029.0,119.3 1029.8,119.2 1030.5,119.2 1031.2,119.3 1032.0,119.5 1032.8,119.7 1033.5,120.1 1034.2,120.6 1035.0,121.2 1035.8,122.0 1036.5,123.2 1037.2,124.5 1038.0,126.1 1038.8,127.9 1039.5,129.9 1040.2,131.9 1041.0,134.1 1041.8,136.5 1042.5,139.0 1043.2,141.8 1044.0,144.8 1044.8,148.0 1045.5,151.3 1046.2,154.8 1047.0,158.3 1047.8,162.0 1048.5,165.8 1049.2,169.7 1050.0,173.7 1050.8,177.7 1051.5,181.7 1052.2,185.8 1053.0,189.9 1053.8,194.0 1054.5,198.2 1055.2,202.3 1056.0,206.5 1056.8,210.8 1057.5,215.0 1058.3,219.3 1059.0,223.7 1059.8,228.1 1060.5,232.5 1061.3,237.1 1062.0,242.0 1062.8,247.0 1063.5,251.9 1064.3,256.6 1065.0,261.3 1065.8,265.8 1066.5,270.2 1067.3,274.6 1068.0,278.7 1068.8,282.3 1069.5,285.5 1070.3,288.4 1071.0,290.9 1071.8,292.8 1072.5,294.1 1073.3,294.6 1074.0,294.6 1074.8,293.9 1075.5,292.4 1076.3,290.1 1077.0,287.3 1077.8,284.3 1078.5,281.2 1079.3,278.0 1080.0,274.5 1080.8,270.7 1081.5,267.4 1082.3,264.8 1083.0,262.6 1083.8,260.3 1084.5,258.1 1085.3,255.8 1086.0,253.6 1086.8,251.3 1087.5,249.1 1088.3,246.8 1089.0,244.6 1089.8,242.3 1090.5,240.1 1091.3,237.9 1092.0,236.0 1092.8,234.4 1093.5,232.8 1094.3,231.2 1095.0,229.4 1095.8,227.3 1096.5,225.1 1097.3,222.8 1098.0,220.4 1098.8,218.1 1099.5,215.7 1100.3,213.2 1101.0,210.6 1101.8,207.9 1102.5,204.9 1103.3,201.8 1104.0,198.8 1104.8,196.0 1105.5,193.3 1106.3,190.7 1107.0,188.4 1107.8,186.3 1108.5,184.3 1109.3,182.5 1110.0,180.8 1110.8,179.5 1111.5,178.5 1112.3,177.9 1113.0,177.5 1113.8,177.3 1114.5,177.4 1115.3,177.6 1116.0,178.0 1116.8,178.5 1117.5,179.2 1118.3,180.1 1119.0,181.3 1119.8,182.5 1120.5,183.8 1121.3,185.2 1122.0,186.5 1122.8,187.9 1123.5,189.2 1124.3,190.5 1125.0,191.7 1125.8,192.8 1126.5,193.9 1127.3,194.9 1128.0,196.0 1128.8,197.0 1129.5,198.1 1130.3,199.1 1131.0,200.2 1131.8,201.3 1132.5,202.6 1133.3,203.8 1134.0,205.2 1134.8,206.7 1135.5,208.3 1136.3,210.1 1137.0,212.2 1137.8,214.5 1138.5,217.1 1139.3,220.2 1140.0,223.8 1140.8,227.7 1141.5,232.1 1142.3,236.6 1143.0,240.9 1143.8,244.5 1144.5,247.6 1145.3,250.2 1146.0,252.5 1146.8,254.4 1147.5,256.2 1148.3,257.7 1149.0,259.0 1149.8,260.0 1150.5,260.7 1151.3,261.0 1152.0,260.9 1152.8,260.5 1153.5,260.1 1154.3,259.5 1155.0,258.6 1155.8,257.6 1156.5,256.6 1157.3,255.5 1158.0,254.4 1158.8,253.4 1159.5,252.3 1160.3,251.3 1161.0,250.3 1161.8,249.3 1162.5,248.3 1163.3,247.3 1164.0,246.3 1164.8,245.2 1165.5,243.8 1166.3,242.2 1167.0,240.5 1167.8,238.8 1168.5,236.8 1169.3,234.2 1170.0,231.0 1170.8,227.3 1171.5,223.2 1172.3,218.8 1173.0,214.3 1173.8,209.8 1174.5,205.4 1175.3,201.3 1176.0,197.6 1176.8,194.0 1177.5,190.6 1178.3,187.3 1179.0,184.2 1179.8,181.3 1180.5,178.6 1181.3,176.1 1182.0,173.9 1182.8,171.9 1183.5,170.2 1184.3,168.7 1185.0,167.4 1185.8,166.4 1186.5,165.5 1187.3,164.9 1188.0,164.4 1188.8,164.2 1189.5,164.2 1190.3,164.3 1191.0,164.5 1191.8,164.9 1192.5,165.4 1193.3,166.1 1194.0,166.8 1194.8,167.7 1195.5,168.6 1196.3,169.7 1197.0,171.2 1197.8,172.9 1198.5,174.9 1199.3,176.9 1200.0,178.9 1200.8,181.0 1201.5,183.0 1202.3,184.9 1203.0,186.8 1203.8,188.8 1204.5,191.0 1205.3,193.5 1206.0,196.1 1206.8,198.7 1207.5,201.3 1208.3,203.8 1209.0,206.2 1209.8,208.5 1210.5,210.8 1211.3,213.0 1212.0,215.2 1212.8,217.2 1213.5,219.1 1214.3,220.7 1215.0,222.3 1215.8,223.6 1216.5,224.8 1217.3,225.8 1218.0,226.8 1218.8,227.8 1219.5,228.8 1220.3,229.8 1221.0,230.8 1221.8,231.8 1222.5,232.8 1223.3,233.8 1224.0,234.8 1224.8,235.8 1225.5,236.8 1226.3,237.8 1227.0,238.8 1227.8,239.7 1228.5,240.7 1229.3,241.6 1230.0,242.5 1230.8,243.4 1231.5,244.3 1232.3,245.2 1233.0,245.8 1233.8,246.4 1234.5,247.0 1235.3,247.6 1236.0,248.4 1236.8,249.3 1237.5,250.4 1238.3,251.7 1239.0,252.9 1239.8,254.2 1240.5,255.4 1241.3,256.7 1242.0,257.9 1242.8,259.2 1243.5,260.4 1244.3,261.7 1245.0,262.9 1245.8,264.2 1246.5,265.4 1247.3,266.4 1248.0,267.1 1248.8,267.7 1249.5,268.1 1250.3,268.4 1251.0,268.7 1251.8,268.9 1252.5,269.1 1253.3,269.2 1254.0,269.3 1254.8,269.4 1255.5,269.5 1256.3,269.6 1257.0,269.6 1257.8,269.6 1258.5,269.5 1259.3,269.4 1260.0,269.3 1260.8,269.2 1261.5,269.0 1262.3,268.7 1263.0,268.4 1263.8,267.9 1264.5,267.1 1265.3,266.1 1266.0,264.7 1266.8,263.2 1267.5,261.7 1268.3,260.2 1269.0,258.7 1269.8,257.2 1270.5,255.7 1271.3,254.2 1272.0,252.7 1272.8,251.2 1273.5,249.7 1274.3,248.2 1275.0,246.7 1275.8,245.2 1276.5,243.8 1277.3,242.5 1278.0,241.5 1278.8,240.8 1279.5,240.2 1280.3,239.7 1281.0,239.4 1281.8,239.1 1282.5,239.0 1283.3,238.9 1284.0,238.8 1284.8,238.7 1285.5,238.6 1286.3,238.4 1287.0,238.1 1287.8,237.8 1288.5,237.4 1289.3,236.9 1290.0,236.4 1290.8,235.7 1291.5,234.6 1292.3,233.3 1293.0,231.8 1293.8,230.1 1294.5,228.2 1295.3,226.2 1296.0,224.1 1296.8,221.9 1297.6,219.6 1298.3,217.1 1299.1,214.6 1299.8,211.9 1300.6,209.1 1301.3,206.3 1302.1,203.5 1302.8,200.7 1303.6,198.1 1304.3,195.6 1305.1,193.2 1305.8,190.9 1306.6,188.8 1307.3,186.8 1308.1,185.0 1308.8,183.4 1309.6,182.2 1310.3,181.2 1311.1,180.3 1311.8,179.6 1312.6,179.0 1313.3,178.7 1314.1,178.5 1314.8,178.6 1315.6,178.9 1316.3,179.4 1317.1,180.2 1317.8,181.3 1318.6,182.7 1319.3,184.4 1320.1,186.4 1320.8,188.3 1321.6,190.1 1322.3,191.7 1323.1,193.1 1323.8,194.4 1324.6,195.6 1325.3,196.7 1326.1,197.7 1326.8,198.4 1327.6,199.0 1328.3,199.4 1329.1,199.7 1329.8,199.8 1330.6,199.7 1331.3,199.6 1332.1,199.4 1332.8,199.2 1333.6,199.1 1334.3,198.9 1335.1,198.6 1335.8,198.4 1336.6,198.0 1337.3,197.7 1338.1,197.4 1338.8,197.1 1339.6,196.9 1340.3,196.8 1341.1,196.9 1341.8,197.2 1342.6,197.7 1343.3,198.2 1344.1,198.8 1344.8,199.5 1345.6,200.2 1346.3,200.9 1347.1,201.7 1347.8,202.4 1348.6,203.2 1349.3,204.0 1350.1,204.8 1350.8,205.7 1351.6,206.5 1352.3,207.4 1353.1,208.3 1353.8,209.3 1354.6,210.3 1355.3,211.3 1356.1,212.3 1356.8,213.6 1357.6,215.2 1358.3,216.9 1359.1,218.6 1359.8,220.1 1360.6,221.3 1361.3,222.2 1362.1,223.0 1362.8,223.7 1363.6,224.2 1364.3,224.5 1365.1,224.7 1365.8,224.8 1366.6,224.9 1367.3,224.9 1368.1,224.8 1368.8,224.5 1369.6,224.1 1370.3,223.7 1371.1,223.3 1371.8,222.9 1372.6,222.5 1373.3,222.2 1374.1,222.0 1374.8,221.9 1375.6,221.8 1376.3,221.7 1377.1,221.7 1377.8,221.8 1378.6,222.2 1379.3,222.8 1380.1,223.8 1380.8,225.1 1381.6,226.3 1382.3,227.6 1383.1,228.8 1383.8,230.1 1384.6,231.3 1385.3,232.6 1386.1,233.8 1386.8,235.1 1387.6,236.3 1388.3,237.6 1389.1,238.8 1389.8,239.8 1390.6,240.6 1391.3,241.2 1392.1,241.5 1392.8,241.8 1393.6,241.9 1394.3,241.9 1395.1,241.7 1395.8,241.3 1396.6,240.7 1397.3,239.7 1398.1,238.5 1398.8,236.9 1399.6,235.1 1400.3,233.1 1401.1,231.1 1401.8,229.2 1402.6,227.3 1403.3,225.7 1404.1,224.1 1404.8,222.5 1405.6,221.0 1406.3,219.6 1407.1,218.2 1407.8,217.1 1408.6,216.3 1409.3,215.7 1410.1,215.3 1410.8,215.1 1411.6,215.1 1412.3,215.3 1413.1,215.6 1413.8,216.0 1414.6,216.6 1415.3,217.3 1416.1,218.2 1416.8,219.2 1417.6,220.3 1418.3,221.5 1419.1,222.9 1419.8,224.3 1420.6,225.8 1421.3,227.6 1422.1,229.5 1422.8,231.4 1423.6,233.1 1424.3,234.6 1425.1,235.9 1425.8,237.0 1426.6,237.9 1427.3,238.7 1428.1,239.3 1428.8,239.6 1429.6,239.7 1430.3,239.6 1431.1,239.2 1431.8,238.6 1432.6,237.8 1433.3,236.8 1434.1,235.7 1434.8,234.4 1435.6,233.1 1436.3,231.5 1437.1,229.7 1437.8,227.6 1438.6,225.4 1439.3,223.2 1440.1,220.9 1440.8,218.6 1441.6,216.2 1442.3,213.8 1443.1,211.2 1443.8,208.7 1444.6,206.1 1445.3,203.7 1446.1,201.4 1446.8,199.5 1447.6,197.8 1448.3,196.3 1449.1,195.1 1449.8,194.0 1450.6,193.2 1451.3,192.4 1452.1,191.8 1452.8,191.2 1453.6,190.8 1454.3,190.3 1455.1,190.0 1455.8,189.7 1456.6,189.7 1457.3,189.8 1458.1,190.0 1458.8,190.4 1459.6,190.8 1460.3,191.3 1461.1,191.9 1461.8,192.6 1462.6,193.2 1463.3,193.9 1464.1,194.6 1464.8,195.3 1465.6,196.1 1466.3,196.9 1467.1,197.9 1467.8,198.8 1468.6,199.7 1469.3,200.7 1470.1,201.6 1470.8,202.5 1471.6,203.5 1472.3,204.4 1473.1,205.4 1473.8,206.3 1474.6,207.2 1475.3,208.2 1476.1,209.1 1476.8,210.1 1477.6,211.0 1478.3,212.0 1479.1,213.1 1479.8,214.3 1480.6,215.7 1481.3,217.1 1482.1,218.6 1482.8,220.0 1483.6,221.6 1484.3,223.3 1485.1,225.1 1485.8,227.0 1486.6,228.8 1487.3,230.4 1488.1,231.8 1488.8,233.0 1489.6,234.1 1490.3,235.0 1491.1,235.9 1491.8,236.7 1492.6,237.3 1493.3,237.7 1494.1,237.9 1494.8,237.8 1495.6,237.5 1496.3,237.0 1497.1,236.3 1497.8,235.3 1498.6,234.0 1499.3,232.5 1500.1,231.0 1500.8,229.5 1501.6,228.0 1502.3,226.5 1503.1,225.0 1503.8,223.5 1504.6,222.0 1505.3,220.5 1506.1,219.0 1506.8,217.7 1507.6,216.6 1508.3,215.7 1509.1,215.1 1509.8,214.6 1510.6,214.2 1511.3,213.9 1512.1,213.7 1512.8,213.4 1513.6,213.3 1514.3,213.2 1515.1,213.1 1515.8,213.0 1516.6,213.0 1517.3,212.9 1518.1,212.8 1518.8,212.7 1519.6,212.5 1520.3,212.2 1521.1,211.9 1521.8,211.6 1522.6,211.3 1523.3,211.0 1524.1,210.8 1524.8,210.5 1525.6,210.2 1526.3,209.9 1527.1,209.7 1527.8,209.4 1528.6,209.2 1529.3,209.1 1530.1,209.1 1530.8,209.3 1531.6,209.7 1532.3,210.2 1533.1,210.7 1533.8,211.3 1534.6,211.9 1535.3,212.5 1536.1,213.2 1536.8,213.9 1537.6,214.6 1538.4,215.4 1539.1,216.2 1539.9,216.9 1540.6,217.7 1541.4,218.3 1542.1,218.9 1542.9,219.4 1543.6,219.8 1544.4,220.1 1545.1,220.4 1545.9,220.5 1546.6,220.6 1547.4,220.7 1548.1,220.7 1548.9,220.8 1549.6,220.8 1550.4,220.9 1551.1,220.9 1551.9,221.0 1552.6,221.0 1553.4,221.1 1554.1,221.1 1554.9,221.1 1555.6,221.1 1556.4,221.2 1557.1,221.3 1557.9,221.7 1558.6,222.5 1559.4,223.5 1560.1,224.6 1560.9,225.7 1561.6,226.8 1562.4,227.9 1563.1,229.1 1563.9,230.3 1564.6,231.4 1565.4,232.4 1566.1,233.1 1566.9,233.6 1567.6,233.9 1568.4,234.0 1569.1,234.0 1569.9,233.9 1570.6,233.7 1571.4,233.3 1572.1,232.7 1572.9,231.7 1573.6,230.5 1574.4,229.2 1575.1,228.0 1575.9,226.8 1576.6,225.5 1577.4,224.2 1578.1,223.0 1578.9,221.8 1579.6,220.5 1580.4,219.2 1581.1,218.0 1581.9,216.8 1582.6,215.6 1583.4,214.4 1584.1,213.3 1584.9,212.2 1585.6,211.1 1586.4,210.1 1587.1,209.1 1587.9,208.3 1588.6,207.7 1589.4,207.2 1590.1,206.7 1590.9,206.3 1591.6,206.0 1592.4,205.8 1593.1,205.6 1593.9,205.5 1594.6,205.4 1595.4,205.4 1596.1,205.5 1596.9,205.7 1597.6,206.0 1598.4,206.4 1599.1,207.0 1599.9,207.7 1600.6,208.6 1601.4,209.6 1602.1,210.7 1602.9,211.9 1603.6,213.2 1604.4,214.5 1605.1,216.0 1605.9,217.6 1606.6,219.2 1607.4,220.7 1608.1,222.1 1608.9,223.3 1609.6,224.5 1610.4,225.5 1611.1,226.4 1611.9,227.1 1612.6,227.7 1613.4,228.2 1614.1,228.5 1614.9,228.8 1615.6,228.9 1616.4,228.9 1617.1,228.9 1617.9,228.8 1618.6,228.6 1619.4,228.3 1620.1,228.0" stroke="#00ff00" stroke-width="2.6"/>
</g>
<text class="t" transform="translate(973.50,471.00) scale(0.9665,1)" text-anchor="middle">5</text>
<text class="t" transform="translate(1134.20,471.00) scale(0.9665,1)" text-anchor="middle">10</text>
<text class="t" transform="translate(1295.80,471.00) scale(0.9665,1)" text-anchor="middle">15</text>
<text class="t" transform="translate(1457.40,471.00) scale(0.9665,1)" text-anchor="middle">20</text>
<text class="t" transform="translate(1619.00,471.00) scale(0.9665,1)" text-anchor="middle">25</text>
<text class="t" transform="translate(962.10,438.00) scale(0.9665,1)" text-anchor="end">-5</text>
<text class="t" transform="translate(962.10,233.22) scale(0.9665,1)" text-anchor="end">0</text>
<text class="t" transform="translate(962.10,28.45) scale(0.9665,1)" text-anchor="end">5</text>
<text class="l" transform="translate(1295.90,520.20)" text-anchor="middle" style="font-size:43.3px">Elevation angle /degree</text>
<text class="l" transform="translate(912.00,219.00) rotate(-90) scale(0.9920,1)" text-anchor="middle" style="font-size:43.8px">Volts/Volts</text>
<text class="c" xml:space="preserve" x="1277.4 1288.5 1295.7 1316.0 1324.0" y="589.1 589.1 588.2 589.1 589.1">( b )</text>
<g class="ax"><rect x="574.50" y="636.85" width="609.00" height="393.85"/><line x1="777.50" y1="1030.70" x2="777.50" y2="1024.20"/><line x1="777.50" y1="636.85" x2="777.50" y2="643.35"/><line x1="980.50" y1="1030.70" x2="980.50" y2="1024.20"/><line x1="980.50" y1="636.85" x2="980.50" y2="643.35"/><line x1="574.50" y1="1018.60" x2="581.00" y2="1018.60"/><line x1="1183.50" y1="1018.60" x2="1177.00" y2="1018.60"/><line x1="574.50" y1="891.35" x2="581.00" y2="891.35"/><line x1="1183.50" y1="891.35" x2="1177.00" y2="891.35"/><line x1="574.50" y1="764.10" x2="581.00" y2="764.10"/><line x1="1183.50" y1="764.10" x2="1177.00" y2="764.10"/></g>
<clipPath id="cc"><rect x="574.00" y="636.35" width="610.60" height="394.85"/></clipPath>
<g clip-path="url(#cc)" class="cv">
<polyline points="574.4,1019.0 575.1,1019.0 575.9,1019.0 576.6,1019.0 577.4,1019.1 578.1,1019.1 578.9,1019.0 579.6,1019.0 580.4,1019.0 581.1,1019.0 581.9,1019.0 582.6,1019.0 583.4,1019.0 584.1,1019.0 584.9,1018.9 585.6,1018.9 586.4,1018.9 587.1,1018.9 587.9,1018.8 588.6,1018.8 589.4,1018.8 590.1,1018.7 590.9,1018.7 591.6,1018.6 592.4,1018.6 593.1,1018.5 593.9,1018.5 594.6,1018.4 595.4,1018.3 596.1,1018.3 596.9,1018.2 597.6,1018.1 598.4,1018.0 599.1,1018.0 599.9,1017.9 600.6,1017.8 601.4,1017.7 602.1,1017.6 602.9,1017.5 603.6,1017.5 604.4,1017.4 605.1,1017.3 605.9,1017.2 606.6,1017.1 607.4,1017.0 608.1,1016.9 608.9,1016.8 609.6,1016.7 610.4,1016.6 611.1,1016.5 611.9,1016.3 612.7,1016.2 613.4,1016.0 614.2,1015.8 614.9,1015.6 615.7,1015.4 616.4,1015.2 617.2,1015.0 617.9,1014.7 618.7,1014.4 619.4,1014.0 620.2,1013.7 620.9,1013.3 621.7,1012.9 622.4,1012.6 623.2,1012.2 623.9,1011.8 624.7,1011.4 625.4,1011.0 626.2,1010.6 626.9,1010.2 627.7,1009.8 628.4,1009.4 629.2,1008.9 629.9,1008.5 630.7,1008.0 631.4,1007.5 632.2,1007.0 632.9,1006.5 633.7,1005.9 634.4,1005.4 635.2,1004.7 635.9,1004.0 636.7,1003.3 637.4,1002.5 638.2,1001.8 638.9,1001.0 639.7,1000.1 640.4,999.3 641.2,998.4 641.9,997.6 642.7,996.7 643.4,995.8 644.2,994.9 644.9,994.0 645.7,993.0 646.4,992.0 647.2,991.0 647.9,990.0 648.7,989.0 649.4,987.9 650.2,986.9 650.9,985.8 651.7,984.6 652.4,983.5 653.2,982.3 653.9,981.0 654.7,979.7 655.4,978.4 656.2,977.0 656.9,975.6 657.7,974.1 658.4,972.6 659.2,971.1 659.9,969.5 660.7,967.9 661.4,966.2 662.2,964.5 662.9,962.6 663.7,960.8 664.4,958.9 665.2,957.0 665.9,955.0 666.7,953.1 667.4,951.1 668.2,949.0 668.9,947.0 669.7,944.9 670.4,942.8 671.2,940.7 671.9,938.5 672.7,936.3 673.4,934.1 674.2,931.8 674.9,929.5 675.7,927.1 676.4,924.7 677.2,922.2 677.9,919.7 678.7,917.1 679.4,914.5 680.2,911.8 680.9,909.0 681.7,906.2 682.4,903.3 683.2,900.3 683.9,897.3 684.7,894.3 685.4,891.1 686.2,888.0 686.9,884.7 687.7,881.3 688.4,877.8 689.2,874.3 689.9,870.8 690.7,867.3 691.4,863.8 692.2,860.4 692.9,857.0 693.7,853.8 694.4,850.7 695.2,847.6 695.9,844.6 696.7,841.6 697.4,838.6 698.2,835.6 698.9,832.7 699.7,829.8 700.4,826.9 701.2,824.0 701.9,821.2 702.7,818.4 703.4,815.5 704.2,812.8 704.9,810.0 705.7,807.3 706.4,804.7 707.2,802.1 707.9,799.6 708.7,797.1 709.4,794.8 710.2,792.5 710.9,790.4 711.7,788.3 712.5,786.3 713.2,784.4 714.0,782.5 714.7,780.6 715.5,778.7 716.2,777.0 717.0,775.3 717.7,773.8 718.5,772.3 719.2,771.0 720.0,769.9 720.7,768.9 721.5,768.0 722.2,767.3 723.0,766.6 723.7,766.0 724.5,765.5 725.2,765.1 726.0,764.7 726.7,764.4 727.5,764.1 728.2,764.0 729.0,763.9 729.7,763.9 730.5,764.0 731.2,764.1 732.0,764.4 732.7,764.8 733.5,765.3 734.2,766.0 735.0,766.8 735.7,767.7 736.5,768.8 737.2,769.9 738.0,771.1 738.7,772.3 739.5,773.6 740.2,775.0 741.0,776.6 741.7,778.3 742.5,780.2 743.2,782.3 744.0,784.4 744.7,786.6 745.5,788.9 746.2,791.2 747.0,793.5 747.7,795.9 748.5,798.3 749.2,800.6 750.0,803.0 750.7,805.4 751.5,807.9 752.2,810.6 753.0,813.5 753.7,816.6 754.5,819.6 755.2,822.6 756.0,825.6 756.7,828.6 757.5,831.6 758.2,834.6 759.0,837.6 759.7,840.6 760.5,843.6 761.2,846.6 762.0,849.6 762.7,852.6 763.5,855.6 764.2,858.6 765.0,861.6 765.7,864.6 766.5,867.6 767.2,870.6 768.0,873.6 768.7,876.8 769.5,880.5 770.2,884.4 771.0,888.2 771.7,891.5 772.5,894.7 773.2,897.8 774.0,900.8 774.7,903.8 775.5,906.7 776.2,909.6 777.0,912.5 777.7,915.3 778.5,918.1 779.2,920.9 780.0,923.6 780.7,926.3 781.5,929.0 782.2,931.6 783.0,934.2 783.7,936.8 784.5,939.3 785.2,941.8 786.0,944.2 786.7,946.6 787.5,949.0 788.2,951.3 789.0,953.6 789.7,955.8 790.5,958.0 791.2,960.2 792.0,962.4 792.7,964.6 793.5,966.7 794.2,968.7 795.0,970.7 795.7,972.7 796.5,974.6 797.2,976.4 798.0,978.2 798.7,979.9 799.5,981.5 800.2,983.0 801.0,984.5 801.7,985.9 802.5,987.3 803.2,988.6 804.0,989.9 804.7,991.2 805.5,992.5 806.2,993.7 807.0,994.9 807.7,996.0 808.5,997.1 809.2,998.1 810.0,999.1 810.7,1000.1 811.5,1001.0 812.2,1001.9 813.0,1002.7 813.7,1003.5 814.5,1004.3 815.2,1005.0 816.0,1005.6 816.7,1006.2 817.5,1006.8 818.2,1007.3 819.0,1007.8 819.7,1008.2 820.5,1008.7 821.2,1009.1 822.0,1009.5 822.7,1009.9 823.5,1010.3 824.2,1010.6 825.0,1010.9 825.7,1011.2 826.5,1011.4 827.2,1011.6 828.0,1011.8 828.7,1012.0 829.5,1012.3 830.2,1012.5 831.0,1012.7 831.7,1012.9 832.5,1013.1 833.2,1013.3 834.0,1013.5 834.7,1013.7 835.5,1013.9 836.2,1014.0 837.0,1014.2 837.8,1014.4 838.5,1014.6 839.2,1014.8 840.0,1015.0 840.8,1015.2 841.5,1015.4 842.2,1015.5 843.0,1015.7 843.8,1015.9 844.5,1016.0 845.2,1016.1 846.0,1016.3 846.8,1016.4 847.5,1016.5 848.2,1016.7 849.0,1016.8 849.8,1016.9 850.5,1017.0 851.2,1017.1 852.0,1017.2 852.8,1017.3 853.5,1017.4 854.2,1017.5 855.0,1017.6 855.8,1017.6 856.5,1017.7 857.2,1017.8 858.0,1017.8 858.8,1017.9 859.5,1017.9 860.2,1018.0 861.0,1018.0 861.8,1018.0 862.5,1018.1 863.3,1018.1 864.0,1018.1 864.8,1018.2 865.5,1018.2 866.3,1018.2 867.0,1018.2 867.8,1018.3 868.5,1018.3 869.3,1018.3 870.0,1018.4 870.8,1018.4 871.5,1018.4 872.3,1018.4 873.0,1018.4 873.8,1018.4 874.5,1018.5 875.3,1018.5 876.0,1018.5 876.8,1018.5 877.5,1018.5 878.3,1018.5 879.0,1018.5 879.8,1018.5 880.5,1018.5 881.3,1018.6 882.0,1018.6 882.8,1018.6 883.5,1018.6 884.3,1018.6 885.0,1018.6 885.8,1018.6 886.5,1018.6 887.3,1018.6 888.0,1018.6 888.8,1018.6 889.5,1018.7 890.3,1018.7 891.0,1018.7 891.8,1018.7 892.5,1018.7 893.3,1018.7 894.0,1018.7 894.8,1018.7 895.5,1018.7 896.3,1018.7 897.0,1018.7 897.8,1018.7 898.5,1018.7 899.3,1018.7 900.0,1018.7 900.8,1018.7 901.5,1018.7 902.3,1018.7 903.0,1018.7 903.8,1018.7 904.5,1018.7 905.3,1018.7 906.0,1018.7 906.8,1018.7 907.5,1018.7 908.3,1018.7 909.0,1018.7 909.8,1018.7 910.5,1018.7 911.3,1018.7 912.0,1018.7 912.8,1018.7 913.5,1018.7 914.3,1018.7 915.0,1018.7 915.8,1018.7 916.5,1018.7 917.3,1018.7 918.0,1018.7 918.8,1018.7 919.5,1018.7 920.3,1018.7 921.0,1018.7 921.8,1018.7 922.5,1018.7 923.3,1018.7 924.0,1018.7 924.8,1018.7 925.5,1018.7 926.3,1018.7 927.0,1018.7 927.8,1018.7 928.5,1018.7 929.3,1018.7 930.0,1018.7 930.8,1018.7 931.5,1018.7 932.3,1018.7 933.0,1018.7 933.8,1018.7 934.5,1018.7 935.3,1018.7 936.0,1018.7 936.8,1018.7 937.5,1018.7 938.3,1018.7 939.0,1018.7 939.8,1018.7 940.5,1018.7 941.3,1018.7 942.0,1018.7 942.8,1018.7 943.5,1018.7 944.3,1018.7 945.0,1018.7 945.8,1018.7 946.5,1018.7 947.3,1018.7 948.0,1018.7 948.8,1018.7 949.5,1018.7 950.3,1018.7 951.0,1018.7 951.8,1018.7 952.5,1018.7 953.3,1018.7 954.0,1018.7 954.8,1018.7 955.5,1018.7 956.3,1018.7 957.0,1018.7 957.8,1018.7 958.5,1018.7 959.3,1018.7 960.0,1018.7 960.8,1018.7 961.5,1018.7 962.3,1018.7 963.0,1018.7 963.8,1018.7 964.5,1018.7 965.3,1018.7 966.0,1018.7 966.8,1018.7 967.5,1018.7 968.3,1018.7 969.0,1018.7 969.8,1018.7 970.5,1018.7 971.3,1018.7 972.0,1018.7 972.8,1018.7 973.5,1018.7 974.3,1018.7 975.0,1018.7 975.8,1018.7 976.5,1018.7 977.3,1018.7 978.0,1018.7 978.8,1018.7 979.5,1018.7 980.3,1018.7 981.0,1018.7 981.8,1018.7 982.5,1018.7 983.3,1018.7 984.0,1018.7 984.8,1018.7 985.5,1018.7 986.3,1018.7 987.1,1018.7 987.8,1018.7 988.6,1018.7 989.3,1018.7 990.1,1018.7 990.8,1018.7 991.6,1018.7 992.3,1018.7 993.1,1018.7 993.8,1018.7 994.6,1018.7 995.3,1018.7 996.1,1018.7 996.8,1018.7 997.6,1018.7 998.3,1018.7 999.1,1018.7 999.8,1018.7 1000.6,1018.7 1001.3,1018.7 1002.1,1018.7 1002.8,1018.7 1003.6,1018.7 1004.3,1018.7 1005.1,1018.7 1005.8,1018.7 1006.6,1018.7 1007.3,1018.7 1008.1,1018.7 1008.8,1018.7 1009.6,1018.7 1010.3,1018.7 1011.1,1018.7 1011.8,1018.7 1012.6,1018.7 1013.3,1018.7 1014.1,1018.7 1014.8,1018.7 1015.6,1018.7 1016.3,1018.7 1017.1,1018.7 1017.8,1018.7 1018.6,1018.7 1019.3,1018.7 1020.1,1018.7 1020.8,1018.7 1021.6,1018.7 1022.3,1018.7 1023.1,1018.7 1023.8,1018.7 1024.6,1018.7 1025.3,1018.7 1026.1,1018.7 1026.8,1018.7 1027.6,1018.7 1028.3,1018.7 1029.1,1018.7 1029.8,1018.7 1030.6,1018.7 1031.3,1018.7 1032.1,1018.7 1032.8,1018.7 1033.6,1018.7 1034.3,1018.7 1035.1,1018.7 1035.8,1018.7 1036.6,1018.7 1037.3,1018.7 1038.1,1018.7 1038.8,1018.7 1039.6,1018.7 1040.3,1018.7 1041.1,1018.7 1041.8,1018.7 1042.6,1018.7 1043.3,1018.7 1044.1,1018.7 1044.8,1018.7 1045.6,1018.7 1046.3,1018.7 1047.1,1018.7 1047.8,1018.7 1048.6,1018.7 1049.3,1018.7 1050.1,1018.7 1050.8,1018.7 1051.6,1018.7 1052.3,1018.7 1053.1,1018.7 1053.8,1018.7 1054.6,1018.7 1055.3,1018.7 1056.1,1018.7 1056.8,1018.7 1057.6,1018.7 1058.3,1018.7 1059.1,1018.7 1059.8,1018.7 1060.6,1018.7 1061.3,1018.7 1062.1,1018.7 1062.8,1018.7 1063.6,1018.7 1064.3,1018.7 1065.1,1018.7 1065.8,1018.7 1066.6,1018.7 1067.3,1018.7 1068.1,1018.7 1068.8,1018.7 1069.6,1018.7 1070.3,1018.7 1071.1,1018.7 1071.8,1018.7 1072.6,1018.7 1073.3,1018.7 1074.1,1018.7 1074.8,1018.7 1075.6,1018.7 1076.3,1018.7 1077.1,1018.7 1077.8,1018.7 1078.6,1018.7 1079.3,1018.7 1080.1,1018.7 1080.8,1018.7 1081.6,1018.7 1082.3,1018.7 1083.1,1018.7 1083.8,1018.7 1084.6,1018.7 1085.3,1018.7 1086.1,1018.7 1086.8,1018.7 1087.6,1018.7 1088.3,1018.7 1089.1,1018.7 1089.8,1018.7 1090.6,1018.7 1091.3,1018.7 1092.1,1018.7 1092.8,1018.7 1093.6,1018.7 1094.3,1018.7 1095.1,1018.7 1095.8,1018.7 1096.6,1018.7 1097.3,1018.7 1098.1,1018.7 1098.8,1018.7 1099.6,1018.7 1100.3,1018.7 1101.1,1018.7 1101.8,1018.7 1102.6,1018.7 1103.3,1018.7 1104.1,1018.7 1104.8,1018.7 1105.6,1018.7 1106.3,1018.7 1107.1,1018.7 1107.8,1018.7 1108.6,1018.7 1109.3,1018.7 1110.1,1018.7 1110.9,1018.7 1111.6,1018.7 1112.4,1018.7 1113.1,1018.7 1113.9,1018.7 1114.6,1018.7 1115.4,1018.7 1116.1,1018.7 1116.9,1018.7 1117.6,1018.7 1118.4,1018.7 1119.1,1018.7 1119.9,1018.7 1120.6,1018.7 1121.4,1018.7 1122.1,1018.7 1122.9,1018.7 1123.6,1018.7 1124.4,1018.7 1125.1,1018.7 1125.9,1018.7 1126.6,1018.7 1127.4,1018.7 1128.1,1018.7 1128.9,1018.7 1129.6,1018.7 1130.4,1018.7 1131.1,1018.7 1131.9,1018.7 1132.6,1018.7 1133.4,1018.7 1134.1,1018.7 1134.9,1018.7 1135.6,1018.7 1136.4,1018.7 1137.1,1018.7 1137.9,1018.7 1138.6,1018.7 1139.4,1018.7 1140.1,1018.7 1140.9,1018.7 1141.6,1018.7 1142.4,1018.7 1143.1,1018.7 1143.9,1018.7 1144.6,1018.7 1145.4,1018.7 1146.1,1018.7 1146.9,1018.7 1147.6,1018.7 1148.4,1018.7 1149.1,1018.7 1149.9,1018.7 1150.6,1018.7 1151.4,1018.7 1152.1,1018.7 1152.9,1018.7 1153.6,1018.7 1154.4,1018.7 1155.1,1018.7 1155.9,1018.7 1156.6,1018.7 1157.4,1018.7 1158.1,1018.7 1158.9,1018.7 1159.6,1018.7 1160.4,1018.7 1161.1,1018.7 1161.9,1018.7 1162.6,1018.7 1163.4,1018.7 1164.1,1018.7 1164.9,1018.7 1165.6,1018.7 1166.4,1018.7 1167.1,1018.7 1167.9,1018.7 1168.6,1018.7 1169.4,1018.7 1170.1,1018.7 1170.9,1018.7 1171.6,1018.7 1172.4,1018.7 1173.1,1018.7 1173.9,1018.7 1174.6,1018.7 1175.4,1018.7 1176.1,1018.7 1176.9,1018.7 1177.6,1018.7 1178.4,1018.7 1179.1,1018.7 1179.9,1018.7 1180.6,1018.7 1181.4,1018.7 1182.1,1018.7 1182.9,1018.7 1183.6,1018.7" stroke="#ff0000" stroke-width="2.5"/>
<polyline points="574.4,1017.7 575.1,1017.6 575.9,1017.6 576.6,1017.6 577.4,1017.6 578.1,1017.6 578.9,1017.6 579.6,1017.5 580.4,1017.5 581.1,1017.5 581.9,1017.5 582.6,1017.5 583.4,1017.5 584.1,1017.5 584.9,1017.4 585.6,1017.4 586.4,1017.4 587.1,1017.4 587.9,1017.4 588.6,1017.4 589.4,1017.3 590.1,1017.3 590.9,1017.3 591.6,1017.3 592.4,1017.3 593.1,1017.3 593.9,1017.2 594.6,1017.2 595.4,1017.2 596.1,1017.2 596.9,1017.2 597.6,1017.2 598.4,1017.2 599.1,1017.1 599.9,1017.1 600.6,1017.1 601.4,1017.1 602.1,1017.1 602.9,1017.1 603.6,1017.1 604.4,1017.0 605.1,1017.0 605.9,1017.0 606.6,1017.0 607.4,1017.0 608.1,1017.0 608.9,1016.9 609.6,1016.9 610.4,1016.9 611.1,1016.8 611.9,1016.8 612.7,1016.7 613.4,1016.6 614.2,1016.6 614.9,1016.5 615.7,1016.4 616.4,1016.3 617.2,1016.3 617.9,1016.2 618.7,1016.1 619.4,1016.0 620.2,1015.9 620.9,1015.7 621.7,1015.4 622.4,1015.1 623.2,1014.8 623.9,1014.5 624.7,1014.0 625.4,1013.6 626.2,1013.2 626.9,1012.8 627.7,1012.3 628.4,1011.8 629.2,1011.3 629.9,1010.7 630.7,1010.0 631.4,1009.3 632.2,1008.5 632.9,1007.6 633.7,1006.6 634.4,1005.5 635.2,1004.3 635.9,1003.0 636.7,1001.7 637.4,1000.4 638.2,999.0 638.9,997.6 639.7,996.1 640.4,994.6 641.2,993.0 641.9,991.5 642.7,990.0 643.4,988.5 644.2,987.1 644.9,985.9 645.7,984.6 646.4,983.5 647.2,982.4 647.9,981.5 648.7,980.6 649.4,979.8 650.2,979.2 650.9,978.7 651.7,978.3 652.4,977.9 653.2,977.6 653.9,977.4 654.7,977.2 655.4,977.1 656.2,977.1 656.9,977.1 657.7,977.3 658.4,977.5 659.2,977.9 659.9,978.4 660.7,979.1 661.4,980.0 662.2,981.1 662.9,982.2 663.7,983.3 664.4,984.5 665.2,985.7 665.9,986.9 666.7,988.1 667.4,989.4 668.2,990.7 668.9,991.9 669.7,993.2 670.4,994.4 671.2,995.6 671.9,996.8 672.7,997.9 673.4,998.9 674.2,999.8 674.9,1000.7 675.7,1001.6 676.4,1002.4 677.2,1003.1 677.9,1003.7 678.7,1004.1 679.4,1004.5 680.2,1004.8 680.9,1005.0 681.7,1005.1 682.4,1005.1 683.2,1004.9 683.9,1004.6 684.7,1004.1 685.4,1003.6 686.2,1002.9 686.9,1002.0 687.7,1000.9 688.4,999.6 689.2,998.1 689.9,996.4 690.7,994.6 691.4,992.5 692.2,990.1 692.9,987.2 693.7,984.0 694.4,980.5 695.2,976.7 695.9,972.6 696.7,968.2 697.4,963.5 698.2,958.5 698.9,953.4 699.7,948.1 700.4,942.7 701.2,937.1 701.9,931.3 702.7,925.5 703.4,919.6 704.2,913.5 704.9,907.1 705.7,900.5 706.4,894.0 707.2,887.4 707.9,880.8 708.7,874.3 709.4,867.7 710.2,861.2 710.9,854.7 711.7,848.2 712.5,841.9 713.2,835.8 714.0,830.0 714.7,824.4 715.5,819.4 716.2,815.1 717.0,811.2 717.7,807.8 718.5,804.6 719.2,802.0 720.0,799.7 720.7,797.8 721.5,796.1 722.2,794.8 723.0,794.0 723.7,793.6 724.5,793.8 725.2,794.6 726.0,795.9 726.7,797.6 727.5,799.9 728.2,802.8 729.0,806.4 729.7,810.4 730.5,814.8 731.2,819.7 732.0,824.9 732.7,830.4 733.5,835.9 734.2,841.6 735.0,847.7 735.7,853.8 736.5,859.7 737.2,865.3 738.0,870.5 738.7,875.2 739.5,879.5 740.2,883.7 741.0,887.7 741.7,891.6 742.5,895.6 743.2,899.5 744.0,903.3 744.7,907.1 745.5,910.8 746.2,914.2 747.0,917.2 747.7,919.8 748.5,922.2 749.2,924.6 750.0,926.9 750.7,929.1 751.5,931.3 752.2,933.2 753.0,934.8 753.7,936.2 754.5,937.5 755.2,938.5 756.0,939.4 756.7,940.2 757.5,940.8 758.2,941.5 759.0,942.1 759.7,942.6 760.5,943.1 761.2,943.5 762.0,943.8 762.7,944.1 763.5,944.4 764.2,944.7 765.0,945.0 765.7,945.3 766.5,945.6 767.2,946.0 768.0,946.3 768.7,946.7 769.5,947.0 770.2,947.4 771.0,947.8 771.7,948.2 772.5,948.7 773.2,949.2 774.0,949.8 774.7,950.5 775.5,951.2 776.2,951.9 777.0,952.7 777.7,953.5 778.5,954.4 779.2,955.3 780.0,956.2 780.7,957.1 781.5,958.1 782.2,959.1 783.0,960.1 783.7,961.3 784.5,962.4 785.2,963.5 786.0,964.6 786.7,965.8 787.5,966.9 788.2,968.0 789.0,969.1 789.7,970.3 790.5,971.4 791.2,972.5 792.0,973.6 792.7,974.8 793.5,975.9 794.2,977.0 795.0,978.1 795.7,979.3 796.5,980.4 797.2,981.5 798.0,982.6 798.7,983.8 799.5,984.9 800.2,986.0 801.0,987.1 801.7,988.3 802.5,989.4 803.2,990.5 804.0,991.6 804.7,992.7 805.5,993.7 806.2,994.7 807.0,995.6 807.7,996.4 808.5,997.1 809.2,997.9 810.0,998.6 810.7,999.3 811.5,1000.0 812.2,1000.6 813.0,1001.2 813.7,1001.8 814.5,1002.4 815.2,1002.9 816.0,1003.4 816.7,1003.9 817.5,1004.4 818.2,1004.8 819.0,1005.3 819.7,1005.7 820.5,1006.1 821.2,1006.5 822.0,1006.9 822.7,1007.2 823.5,1007.5 824.2,1007.8 825.0,1008.1 825.7,1008.4 826.5,1008.6 827.2,1008.9 828.0,1009.1 828.7,1009.4 829.5,1009.6 830.2,1009.8 831.0,1010.0 831.7,1010.2 832.5,1010.4 833.2,1010.5 834.0,1010.6 834.7,1010.8 835.5,1010.9 836.2,1011.1 837.0,1011.2 837.8,1011.4 838.5,1011.5 839.2,1011.7 840.0,1011.9 840.8,1012.0 841.5,1012.2 842.2,1012.3 843.0,1012.5 843.8,1012.6 844.5,1012.7 845.2,1012.8 846.0,1012.8 846.8,1012.9 847.5,1013.0 848.2,1013.0 849.0,1013.0 849.8,1013.0 850.5,1013.1 851.2,1013.1 852.0,1013.1 852.8,1013.1 853.5,1013.1 854.2,1013.1 855.0,1013.0 855.8,1013.0 856.5,1013.0 857.2,1013.0 858.0,1013.0 858.8,1013.0 859.5,1013.0 860.2,1013.0 861.0,1013.0 861.8,1013.0 862.5,1012.9 863.3,1012.9 864.0,1012.9 864.8,1012.9 865.5,1012.9 866.3,1012.8 867.0,1012.8 867.8,1012.8 868.5,1012.8 869.3,1012.7 870.0,1012.7 870.8,1012.7 871.5,1012.6 872.3,1012.6 873.0,1012.5 873.8,1012.5 874.5,1012.5 875.3,1012.4 876.0,1012.3 876.8,1012.3 877.5,1012.2 878.3,1012.1 879.0,1012.1 879.8,1012.0 880.5,1011.9 881.3,1011.8 882.0,1011.7 882.8,1011.6 883.5,1011.4 884.3,1011.3 885.0,1011.1 885.8,1010.9 886.5,1010.8 887.3,1010.5 888.0,1010.3 888.8,1010.0 889.5,1009.8 890.3,1009.5 891.0,1009.1 891.8,1008.7 892.5,1008.3 893.3,1007.8 894.0,1007.3 894.8,1006.8 895.5,1006.1 896.3,1005.4 897.0,1004.7 897.8,1003.9 898.5,1003.1 899.3,1002.1 900.0,1001.1 900.8,999.9 901.5,998.7 902.3,997.5 903.0,996.3 903.8,995.1 904.5,993.9 905.3,992.7 906.0,991.5 906.8,990.3 907.5,989.1 908.3,988.0 909.0,987.0 909.8,986.1 910.5,985.4 911.3,984.6 912.0,983.9 912.8,983.2 913.5,982.7 914.3,982.2 915.0,981.9 915.8,981.8 916.5,981.7 917.3,981.7 918.0,981.9 918.8,982.1 919.5,982.4 920.3,982.9 921.0,983.4 921.8,984.1 922.5,985.1 923.3,986.0 924.0,987.1 924.8,988.1 925.5,989.3 926.3,990.4 927.0,991.6 927.8,992.9 928.5,994.1 929.3,995.3 930.0,996.4 930.8,997.5 931.5,998.5 932.3,999.5 933.0,1000.5 933.8,1001.5 934.5,1002.5 935.3,1003.4 936.0,1004.2 936.8,1005.1 937.5,1005.8 938.3,1006.5 939.0,1007.1 939.8,1007.6 940.5,1008.1 941.3,1008.5 942.0,1008.8 942.8,1009.1 943.5,1009.4 944.3,1009.5 945.0,1009.7 945.8,1009.9 946.5,1010.0 947.3,1010.1 948.0,1010.1 948.8,1010.1 949.5,1010.2 950.3,1010.2 951.0,1010.2 951.8,1010.2 952.5,1010.2 953.3,1010.2 954.0,1010.2 954.8,1010.2 955.5,1010.2 956.3,1010.2 957.0,1010.2 957.8,1010.2 958.5,1010.2 959.3,1010.2 960.0,1010.2 960.8,1010.1 961.5,1010.1 962.3,1010.1 963.0,1010.1 963.8,1010.1 964.5,1010.0 965.3,1010.0 966.0,1010.0 966.8,1010.0 967.5,1010.0 968.3,1009.9 969.0,1009.9 969.8,1009.9 970.5,1009.9 971.3,1009.8 972.0,1009.8 972.8,1009.8 973.5,1009.8 974.3,1009.7 975.0,1009.7 975.8,1009.7 976.5,1009.6 977.3,1009.6 978.0,1009.6 978.8,1009.5 979.5,1009.5 980.3,1009.5 981.0,1009.5 981.8,1009.5 982.5,1009.5 983.3,1009.6 984.0,1009.6 984.8,1009.7 985.5,1009.7 986.3,1009.8 987.1,1009.8 987.8,1009.8 988.6,1009.8 989.3,1009.8 990.1,1009.8 990.8,1009.8 991.6,1009.7 992.3,1009.7 993.1,1009.7 993.8,1009.7 994.6,1009.6 995.3,1009.6 996.1,1009.6 996.8,1009.6 997.6,1009.5 998.3,1009.5 999.1,1009.5 999.8,1009.5 1000.6,1009.4 1001.3,1009.4 1002.1,1009.4 1002.8,1009.4 1003.6,1009.4 1004.3,1009.3 1005.1,1009.3 1005.8,1009.3 1006.6,1009.3 1007.3,1009.2 1008.1,1009.2 1008.8,1009.2 1009.6,1009.2 1010.3,1009.2 1011.1,1009.2 1011.8,1009.1 1012.6,1009.1 1013.3,1009.1 1014.1,1009.1 1014.8,1009.1 1015.6,1009.0 1016.3,1009.0 1017.1,1009.0 1017.8,1009.0 1018.6,1009.0 1019.3,1009.0 1020.1,1008.9 1020.8,1008.9 1021.6,1008.9 1022.3,1008.9 1023.1,1008.9 1023.8,1008.8 1024.6,1008.8 1025.3,1008.8 1026.1,1008.8 1026.8,1008.8 1027.6,1008.7 1028.3,1008.7 1029.1,1008.7 1029.8,1008.7 1030.6,1008.7 1031.3,1008.6 1032.1,1008.6 1032.8,1008.6 1033.6,1008.6 1034.3,1008.6 1035.1,1008.5 1035.8,1008.5 1036.6,1008.5 1037.3,1008.5 1038.1,1008.5 1038.8,1008.5 1039.6,1008.5 1040.3,1008.4 1041.1,1008.4 1041.8,1008.4 1042.6,1008.4 1043.3,1008.4 1044.1,1008.3 1044.8,1008.3 1045.6,1008.3 1046.3,1008.3 1047.1,1008.3 1047.8,1008.3 1048.6,1008.2 1049.3,1008.2 1050.1,1008.2 1050.8,1008.2 1051.6,1008.2 1052.3,1008.1 1053.1,1008.1 1053.8,1008.1 1054.6,1008.1 1055.3,1008.1 1056.1,1008.1 1056.8,1008.0 1057.6,1008.0 1058.3,1008.0 1059.1,1008.0 1059.8,1008.0 1060.6,1008.0 1061.3,1008.0 1062.1,1007.9 1062.8,1007.9 1063.6,1007.9 1064.3,1007.9 1065.1,1007.9 1065.8,1007.9 1066.6,1007.8 1067.3,1007.8 1068.1,1007.8 1068.8,1007.8 1069.6,1007.8 1070.3,1007.8 1071.1,1007.7 1071.8,1007.7 1072.6,1007.7 1073.3,1007.7 1074.1,1007.7 1074.8,1007.6 1075.6,1007.6 1076.3,1007.6 1077.1,1007.6 1077.8,1007.6 1078.6,1007.6 1079.3,1007.6 1080.1,1007.5 1080.8,1007.5 1081.6,1007.5 1082.3,1007.5 1083.1,1007.5 1083.8,1007.5 1084.6,1007.5 1085.3,1007.4 1086.1,1007.4 1086.8,1007.4 1087.6,1007.4 1088.3,1007.4 1089.1,1007.4 1089.8,1007.3 1090.6,1007.3 1091.3,1007.3 1092.1,1007.3 1092.8,1007.3 1093.6,1007.3 1094.3,1007.2 1095.1,1007.2 1095.8,1007.2 1096.6,1007.2 1097.3,1007.2 1098.1,1007.2 1098.8,1007.1 1099.6,1007.1 1100.3,1007.1 1101.1,1007.1 1101.8,1007.1 1102.6,1007.1 1103.3,1007.1 1104.1,1007.0 1104.8,1007.0 1105.6,1007.0 1106.3,1007.0 1107.1,1007.0 1107.8,1007.0 1108.6,1007.0 1109.3,1006.9 1110.1,1006.9 1110.9,1006.9 1111.6,1006.9 1112.4,1006.9 1113.1,1006.9 1113.9,1006.8 1114.6,1006.8 1115.4,1006.8 1116.1,1006.8 1116.9,1006.8 1117.6,1006.8 1118.4,1006.8 1119.1,1006.7 1119.9,1006.7 1120.6,1006.7 1121.4,1006.7 1122.1,1006.7 1122.9,1006.6 1123.6,1006.6 1124.4,1006.6 1125.1,1006.6 1125.9,1006.6 1126.6,1006.6 1127.4,1006.6 1128.1,1006.5 1128.9,1006.5 1129.6,1006.5 1130.4,1006.5 1131.1,1006.5 1131.9,1006.5 1132.6,1006.5 1133.4,1006.4 1134.1,1006.4 1134.9,1006.4 1135.6,1006.4 1136.4,1006.4 1137.1,1006.4 1137.9,1006.3 1138.6,1006.3 1139.4,1006.3 1140.1,1006.3 1140.9,1006.3 1141.6,1006.3 1142.4,1006.2 1143.1,1006.2 1143.9,1006.2 1144.6,1006.2 1145.4,1006.2 1146.1,1006.2 1146.9,1006.1 1147.6,1006.1 1148.4,1006.1 1149.1,1006.1 1149.9,1006.1 1150.6,1006.1 1151.4,1006.0 1152.1,1006.0 1152.9,1006.0 1153.6,1006.0 1154.4,1006.0 1155.1,1006.0 1155.9,1006.0 1156.6,1005.9 1157.4,1005.9 1158.1,1005.9 1158.9,1005.9 1159.6,1005.9 1160.4,1005.9 1161.1,1005.8 1161.9,1005.8 1162.6,1005.8 1163.4,1005.8 1164.1,1005.8 1164.9,1005.8 1165.6,1005.8 1166.4,1005.7 1167.1,1005.7 1167.9,1005.7 1168.6,1005.7 1169.4,1005.7 1170.1,1005.6 1170.9,1005.6 1171.6,1005.6 1172.4,1005.6 1173.1,1005.6 1173.9,1005.6 1174.6,1005.6 1175.4,1005.5 1176.1,1005.5 1176.9,1005.5 1177.6,1005.5 1178.4,1005.5 1179.1,1005.5 1179.9,1005.5 1180.6,1005.4 1181.4,1005.4 1182.1,1005.4 1182.9,1005.4 1183.6,1005.4" stroke="#0000ff" stroke-width="2.5"/>
<polyline points="574.4,994.3 575.1,993.8 575.9,993.4 576.6,992.9 577.4,992.3 578.1,991.8 578.9,991.2 579.6,990.5 580.4,989.9 581.1,989.2 581.9,988.5 582.6,987.7 583.4,986.9 584.1,986.1 584.9,985.3 585.6,984.4 586.4,983.5 587.1,982.6 587.9,981.7 588.6,980.7 589.4,979.7 590.1,978.7 590.9,977.6 591.6,976.6 592.4,975.5 593.1,974.4 593.9,973.3 594.6,972.2 595.4,971.0 596.1,969.8 596.9,968.6 597.6,967.2 598.4,965.8 599.1,964.4 599.9,962.9 600.6,961.4 601.4,959.9 602.1,958.4 602.9,956.9 603.6,955.4 604.4,953.9 605.1,952.4 605.9,950.9 606.6,949.4 607.4,947.9 608.1,946.4 608.9,944.9 609.6,943.4 610.4,941.9 611.1,940.4 611.9,938.9 612.7,937.4 613.4,935.9 614.2,934.4 614.9,932.9 615.7,931.4 616.4,929.9 617.2,928.4 617.9,927.0 618.7,925.6 619.4,924.3 620.2,923.0 620.9,921.8 621.7,920.5 622.4,919.4 623.2,918.2 623.9,917.0 624.7,915.9 625.4,914.8 626.2,913.7 626.9,912.7 627.7,911.7 628.4,910.7 629.2,909.8 629.9,909.0 630.7,908.1 631.4,907.3 632.2,906.6 632.9,905.9 633.7,905.1 634.4,904.5 635.2,903.9 635.9,903.3 636.7,902.8 637.4,902.3 638.2,901.8 638.9,901.4 639.7,901.1 640.4,900.8 641.2,900.5 641.9,900.2 642.7,900.0 643.4,899.8 644.2,899.7 644.9,899.6 645.7,899.5 646.4,899.5 647.2,899.5 647.9,899.5 648.7,899.6 649.4,899.7 650.2,899.8 650.9,900.0 651.7,900.2 652.4,900.5 653.2,900.8 653.9,901.1 654.7,901.5 655.4,902.0 656.2,902.6 656.9,903.1 657.7,903.7 658.4,904.3 659.2,904.9 659.9,905.6 660.7,906.3 661.4,907.1 662.2,907.9 662.9,908.7 663.7,909.6 664.4,910.4 665.2,911.3 665.9,912.1 666.7,913.0 667.4,913.8 668.2,914.6 668.9,915.5 669.7,916.3 670.4,917.2 671.2,918.0 671.9,918.9 672.7,919.7 673.4,920.5 674.2,921.4 674.9,922.2 675.7,923.1 676.4,923.9 677.2,924.7 677.9,925.5 678.7,926.3 679.4,927.0 680.2,927.8 680.9,928.5 681.7,929.2 682.4,929.9 683.2,930.6 683.9,931.2 684.7,931.7 685.4,932.1 686.2,932.5 686.9,932.9 687.7,933.2 688.4,933.5 689.2,933.7 689.9,933.9 690.7,933.9 691.4,934.0 692.2,934.0 692.9,934.0 693.7,933.7 694.4,933.4 695.2,932.9 695.9,932.4 696.7,931.7 697.4,930.6 698.2,928.9 698.9,926.7 699.7,924.1 700.4,921.1 701.2,917.3 701.9,912.9 702.7,908.1 703.4,902.7 704.2,896.6 704.9,889.8 705.7,882.4 706.4,874.4 707.2,865.5 707.9,855.6 708.7,845.6 709.4,835.6 710.2,825.6 710.9,815.6 711.7,805.6 712.5,795.6 713.2,785.6 714.0,775.6 714.7,765.6 715.5,755.7 716.2,747.1 717.0,739.9 717.7,733.6 718.5,727.8 719.2,723.1 720.0,719.2 720.7,716.0 721.5,713.7 722.2,712.3 723.0,711.9 723.7,712.4 724.5,714.0 725.2,716.8 726.0,720.7 726.7,725.4 727.5,731.0 728.2,737.5 729.0,744.4 729.7,751.7 730.5,759.9 731.2,768.8 732.0,777.8 732.7,786.8 733.5,795.8 734.2,804.8 735.0,813.8 735.7,822.9 736.5,831.7 737.2,840.2 738.0,848.5 738.7,856.7 739.5,864.3 740.2,870.6 741.0,874.9 741.7,878.0 742.5,880.8 743.2,883.4 744.0,886.0 744.7,888.6 745.5,891.1 746.2,893.3 747.0,895.0 747.7,896.1 748.5,896.9 749.2,897.4 750.0,897.8 750.7,897.9 751.5,897.7 752.2,897.5 753.0,897.3 753.7,896.9 754.5,896.5 755.2,895.9 756.0,895.4 756.7,894.8 757.5,894.3 758.2,893.7 759.0,893.2 759.7,892.6 760.5,892.1 761.2,891.5 762.0,891.0 762.7,890.5 763.5,890.0 764.2,889.4 765.0,888.9 765.7,888.4 766.5,887.9 767.2,887.4 768.0,887.0 768.7,886.6 769.5,886.2 770.2,885.9 771.0,885.5 771.7,885.2 772.5,885.0 773.2,884.7 774.0,884.4 774.7,884.2 775.5,883.9 776.2,883.7 777.0,883.5 777.7,883.3 778.5,883.1 779.2,883.0 780.0,882.8 780.7,882.7 781.5,882.5 782.2,882.4 783.0,882.3 783.7,882.2 784.5,882.2 785.2,882.1 786.0,882.1 786.7,882.1 787.5,882.1 788.2,882.1 789.0,882.1 789.7,882.2 790.5,882.3 791.2,882.5 792.0,882.7 792.7,882.9 793.5,883.2 794.2,883.5 795.0,883.9 795.7,884.2 796.5,884.6 797.2,885.1 798.0,885.5 798.7,885.9 799.5,886.4 800.2,886.8 801.0,887.2 801.7,887.6 802.5,888.1 803.2,888.6 804.0,889.1 804.7,889.6 805.5,890.1 806.2,890.7 807.0,891.2 807.7,891.8 808.5,892.5 809.2,893.1 810.0,893.7 810.7,894.3 811.5,895.0 812.2,895.6 813.0,896.2 813.7,896.9 814.5,897.5 815.2,898.2 816.0,898.9 816.7,899.5 817.5,900.2 818.2,900.9 819.0,901.7 819.7,902.4 820.5,903.2 821.2,904.0 822.0,904.8 822.7,905.6 823.5,906.5 824.2,907.3 825.0,908.1 825.7,909.0 826.5,909.9 827.2,910.8 828.0,911.6 828.7,912.5 829.5,913.4 830.2,914.3 831.0,915.2 831.7,916.1 832.5,917.0 833.2,917.9 834.0,918.9 834.7,919.9 835.5,920.9 836.2,921.8 837.0,922.8 837.8,923.8 838.5,924.8 839.2,925.7 840.0,926.7 840.8,927.7 841.5,928.6 842.2,929.6 843.0,930.6 843.8,931.6 844.5,932.6 845.2,933.5 846.0,934.5 846.8,935.5 847.5,936.5 848.2,937.4 849.0,938.4 849.8,939.4 850.5,940.4 851.2,941.3 852.0,942.3 852.8,943.3 853.5,944.3 854.2,945.2 855.0,946.2 855.8,947.2 856.5,948.1 857.2,949.1 858.0,949.9 858.8,950.8 859.5,951.6 860.2,952.4 861.0,953.2 861.8,954.0 862.5,954.7 863.3,955.5 864.0,956.2 864.8,957.0 865.5,957.8 866.3,958.6 867.0,959.4 867.8,960.2 868.5,961.1 869.3,962.0 870.0,962.9 870.8,963.8 871.5,964.6 872.3,965.5 873.0,966.4 873.8,967.2 874.5,968.0 875.3,968.8 876.0,969.6 876.8,970.4 877.5,971.1 878.3,971.8 879.0,972.5 879.8,973.2 880.5,973.8 881.3,974.5 882.0,975.2 882.8,975.8 883.5,976.5 884.3,977.1 885.0,977.8 885.8,978.4 886.5,979.1 887.3,979.7 888.0,980.3 888.8,980.9 889.5,981.5 890.3,982.1 891.0,982.7 891.8,983.3 892.5,983.9 893.3,984.5 894.0,985.0 894.8,985.6 895.5,986.1 896.3,986.6 897.0,987.1 897.8,987.6 898.5,988.1 899.3,988.6 900.0,989.0 900.8,989.5 901.5,989.9 902.3,990.3 903.0,990.7 903.8,991.1 904.5,991.5 905.3,992.0 906.0,992.4 906.8,992.7 907.5,993.1 908.3,993.5 909.0,993.9 909.8,994.2 910.5,994.6 911.3,994.9 912.0,995.2 912.8,995.5 913.5,995.9 914.3,996.2 915.0,996.5 915.8,996.8 916.5,997.0 917.3,997.3 918.0,997.6 918.8,997.9 919.5,998.2 920.3,998.4 921.0,998.7 921.8,999.0 922.5,999.2 923.3,999.5 924.0,999.8 924.8,1000.0 925.5,1000.3 926.3,1000.5 927.0,1000.8 927.8,1001.0 928.5,1001.2 929.3,1001.5 930.0,1001.7 930.8,1001.9 931.5,1002.1 932.3,1002.3 933.0,1002.5 933.8,1002.7 934.5,1002.9 935.3,1003.0 936.0,1003.2 936.8,1003.4 937.5,1003.5 938.3,1003.6 939.0,1003.8 939.8,1003.9 940.5,1004.0 941.3,1004.2 942.0,1004.3 942.8,1004.4 943.5,1004.5 944.3,1004.6 945.0,1004.8 945.8,1004.9 946.5,1005.0 947.3,1005.1 948.0,1005.1 948.8,1005.2 949.5,1005.3 950.3,1005.4 951.0,1005.5 951.8,1005.5 952.5,1005.6 953.3,1005.7 954.0,1005.8 954.8,1005.8 955.5,1005.9 956.3,1006.0 957.0,1006.0 957.8,1006.1 958.5,1006.1 959.3,1006.2 960.0,1006.3 960.8,1006.3 961.5,1006.4 962.3,1006.4 963.0,1006.5 963.8,1006.5 964.5,1006.6 965.3,1006.6 966.0,1006.6 966.8,1006.7 967.5,1006.7 968.3,1006.8 969.0,1006.8 969.8,1006.8 970.5,1006.8 971.3,1006.9 972.0,1006.9 972.8,1006.9 973.5,1006.9 974.3,1007.0 975.0,1007.0 975.8,1007.0 976.5,1007.0 977.3,1007.1 978.0,1007.1 978.8,1007.1 979.5,1007.2 980.3,1007.2 981.0,1007.2 981.8,1007.2 982.5,1007.3 983.3,1007.3 984.0,1007.3 984.8,1007.3 985.5,1007.4 986.3,1007.4 987.1,1007.4 987.8,1007.5 988.6,1007.5 989.3,1007.5 990.1,1007.5 990.8,1007.5 991.6,1007.6 992.3,1007.6 993.1,1007.6 993.8,1007.6 994.6,1007.7 995.3,1007.7 996.1,1007.7 996.8,1007.7 997.6,1007.8 998.3,1007.8 999.1,1007.8 999.8,1007.8 1000.6,1007.9 1001.3,1007.9 1002.1,1007.9 1002.8,1007.9 1003.6,1007.9 1004.3,1007.9 1005.1,1008.0 1005.8,1008.0 1006.6,1008.0 1007.3,1008.0 1008.1,1008.0 1008.8,1008.0 1009.6,1008.0 1010.3,1008.0 1011.1,1008.1 1011.8,1008.1 1012.6,1008.1 1013.3,1008.1 1014.1,1008.1 1014.8,1008.1 1015.6,1008.1 1016.3,1008.1 1017.1,1008.1 1017.8,1008.1 1018.6,1008.1 1019.3,1008.1 1020.1,1008.2 1020.8,1008.2 1021.6,1008.2 1022.3,1008.2 1023.1,1008.2 1023.8,1008.2 1024.6,1008.2 1025.3,1008.2 1026.1,1008.2 1026.8,1008.2 1027.6,1008.2 1028.3,1008.2 1029.1,1008.2 1029.8,1008.2 1030.6,1008.2 1031.3,1008.2 1032.1,1008.2 1032.8,1008.2 1033.6,1008.2 1034.3,1008.2 1035.1,1008.2 1035.8,1008.2 1036.6,1008.2 1037.3,1008.3 1038.1,1008.3 1038.8,1008.3 1039.6,1008.3 1040.3,1008.3 1041.1,1008.3 1041.8,1008.3 1042.6,1008.3 1043.3,1008.3 1044.1,1008.3 1044.8,1008.3 1045.6,1008.3 1046.3,1008.3 1047.1,1008.3 1047.8,1008.3 1048.6,1008.3 1049.3,1008.3 1050.1,1008.3 1050.8,1008.3 1051.6,1008.3 1052.3,1008.3 1053.1,1008.3 1053.8,1008.3 1054.6,1008.3 1055.3,1008.4 1056.1,1008.4 1056.8,1008.4 1057.6,1008.4 1058.3,1008.4 1059.1,1008.4 1059.8,1008.4 1060.6,1008.4 1061.3,1008.4 1062.1,1008.4 1062.8,1008.4 1063.6,1008.4 1064.3,1008.4 1065.1,1008.4 1065.8,1008.4 1066.6,1008.4 1067.3,1008.4 1068.1,1008.4 1068.8,1008.4 1069.6,1008.4 1070.3,1008.4 1071.1,1008.4 1071.8,1008.4 1072.6,1008.4 1073.3,1008.4 1074.1,1008.4 1074.8,1008.4 1075.6,1008.5 1076.3,1008.5 1077.1,1008.5 1077.8,1008.5 1078.6,1008.5 1079.3,1008.5 1080.1,1008.5 1080.8,1008.5 1081.6,1008.5 1082.3,1008.5 1083.1,1008.5 1083.8,1008.5 1084.6,1008.5 1085.3,1008.5 1086.1,1008.5 1086.8,1008.5 1087.6,1008.5 1088.3,1008.5 1089.1,1008.5 1089.8,1008.5 1090.6,1008.5 1091.3,1008.5 1092.1,1008.5 1092.8,1008.5 1093.6,1008.5 1094.3,1008.5 1095.1,1008.5 1095.8,1008.5 1096.6,1008.5 1097.3,1008.5 1098.1,1008.5 1098.8,1008.5 1099.6,1008.5 1100.3,1008.5 1101.1,1008.6 1101.8,1008.6 1102.6,1008.6 1103.3,1008.6 1104.1,1008.6 1104.8,1008.6 1105.6,1008.6 1106.3,1008.6 1107.1,1008.6 1107.8,1008.6 1108.6,1008.6 1109.3,1008.6 1110.1,1008.6 1110.9,1008.6 1111.6,1008.6 1112.4,1008.6 1113.1,1008.6 1113.9,1008.6 1114.6,1008.6 1115.4,1008.6 1116.1,1008.6 1116.9,1008.6 1117.6,1008.6 1118.4,1008.6 1119.1,1008.6 1119.9,1008.6 1120.6,1008.6 1121.4,1008.6 1122.1,1008.6 1122.9,1008.6 1123.6,1008.6 1124.4,1008.6 1125.1,1008.6 1125.9,1008.6 1126.6,1008.6 1127.4,1008.6 1128.1,1008.6 1128.9,1008.6 1129.6,1008.6 1130.4,1008.6 1131.1,1008.6 1131.9,1008.6 1132.6,1008.6 1133.4,1008.6 1134.1,1008.6 1134.9,1008.6 1135.6,1008.6 1136.4,1008.6 1137.1,1008.6 1137.9,1008.6 1138.6,1008.6 1139.4,1008.6 1140.1,1008.6 1140.9,1008.6 1141.6,1008.6 1142.4,1008.6 1143.1,1008.6 1143.9,1008.6 1144.6,1008.6 1145.4,1008.6 1146.1,1008.6 1146.9,1008.6 1147.6,1008.6 1148.4,1008.6 1149.1,1008.6 1149.9,1008.6 1150.6,1008.6 1151.4,1008.6 1152.1,1008.6 1152.9,1008.6 1153.6,1008.6 1154.4,1008.6 1155.1,1008.6 1155.9,1008.6 1156.6,1008.6 1157.4,1008.6 1158.1,1008.6 1158.9,1008.6 1159.6,1008.6 1160.4,1008.6 1161.1,1008.6 1161.9,1008.5 1162.6,1008.5 1163.4,1008.5 1164.1,1008.5 1164.9,1008.5 1165.6,1008.5 1166.4,1008.5 1167.1,1008.5 1167.9,1008.5 1168.6,1008.5 1169.4,1008.5 1170.1,1008.5 1170.9,1008.5 1171.6,1008.5 1172.4,1008.5 1173.1,1008.5 1173.9,1008.5 1174.6,1008.5 1175.4,1008.5 1176.1,1008.5 1176.9,1008.5 1177.6,1008.5 1178.4,1008.5 1179.1,1008.5 1179.9,1008.5 1180.6,1008.5 1181.4,1008.5 1182.1,1008.5 1182.9,1008.4 1183.6,1008.4" stroke="#00ff00" stroke-width="2.5"/>
</g>
<text class="tc" transform="translate(574.50,1077.00) scale(0.9665,1)" text-anchor="middle">0</text>
<text class="tc" transform="translate(777.50,1077.00) scale(0.9665,1)" text-anchor="middle">2</text>
<text class="tc" transform="translate(980.50,1077.00) scale(0.9665,1)" text-anchor="middle">4</text>
<text class="tc" transform="translate(1183.50,1077.00) scale(0.9665,1)" text-anchor="middle">6</text>
<text class="tc" transform="translate(564.40,1032.40) scale(0.9665,1)" text-anchor="end">0</text>
<text class="tc" transform="translate(564.40,905.15) scale(0.9665,1)" text-anchor="end">5</text>
<text class="tc" transform="translate(564.40,777.90) scale(0.9665,1)" text-anchor="end">10</text>
<text class="tc" transform="translate(564.40,650.65) scale(0.9665,1)" text-anchor="end">15</text>
<text class="lc" x="879.5" y="1122.8" text-anchor="middle">Reflected height /m</text>
<text class="lc" transform="translate(462.8,866.4) rotate(-90)" text-anchor="middle">Spectral amplitude</text>
<text class="lc" transform="translate(509.80,857.50) rotate(-90) scale(0.9920,1)" text-anchor="middle" style="font-size:41.8px">Volts/Volts</text>
<text class="c" xml:space="preserve" x="855.3 866.4 875.5 890.8 898.8" y="1184.9 1184.9 1184.0 1184.9 1184.9">( c )</text>
<rect class="ax" x="1021.5" y="648.5" width="150" height="114.6" style="fill:#fff"/>
<line x1="1025.7" y1="669.3" x2="1072.3" y2="669.3" stroke="#ff0000" stroke-width="2.4"/>
<text class="lg" transform="translate(1084.00,679.80) scale(0.9930,1)" text-anchor="start">SNR1</text>
<line x1="1025.7" y1="706.0" x2="1072.3" y2="706.0" stroke="#0000ff" stroke-width="2.4"/>
<text class="lg" transform="translate(1084.00,716.55) scale(0.9930,1)" text-anchor="start">SNR2</text>
<line x1="1025.7" y1="742.8" x2="1072.3" y2="742.8" stroke="#00ff00" stroke-width="2.4"/>
<text class="lg" transform="translate(1084.00,753.30) scale(0.9930,1)" text-anchor="start">SNR5</text>
</svg>
</body></html>
